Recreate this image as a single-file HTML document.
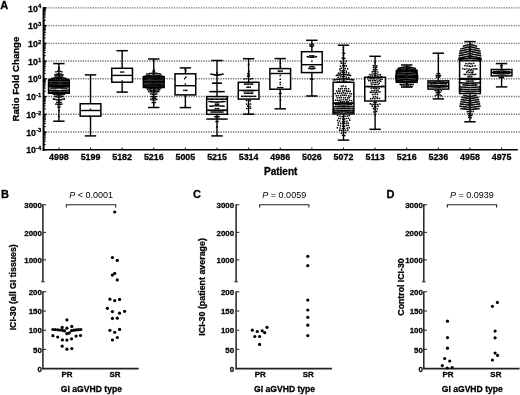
<!DOCTYPE html>
<html><head><meta charset="utf-8"><style>
html,body{margin:0;padding:0;background:#fff;}
svg{display:block;}
text{font-family:"Liberation Sans", sans-serif;fill:#000;}
text[font-weight=bold]{stroke:#000;stroke-width:0.28px;}
svg{filter:blur(0.35px);}
</style></head><body>
<svg width="520" height="395" viewBox="0 0 520 395">
<rect width="520" height="395" fill="#fff"/>
<line x1="46" y1="7.80" x2="520" y2="7.80" stroke="#707070" stroke-width="1.3" stroke-dasharray="1.25 1.21"/>
<line x1="46" y1="25.54" x2="520" y2="25.54" stroke="#707070" stroke-width="1.3" stroke-dasharray="1.25 1.21"/>
<line x1="46" y1="43.28" x2="520" y2="43.28" stroke="#707070" stroke-width="1.3" stroke-dasharray="1.25 1.21"/>
<line x1="46" y1="61.02" x2="520" y2="61.02" stroke="#707070" stroke-width="1.3" stroke-dasharray="1.25 1.21"/>
<line x1="46" y1="78.76" x2="520" y2="78.76" stroke="#707070" stroke-width="1.3" stroke-dasharray="1.25 1.21"/>
<line x1="46" y1="96.50" x2="520" y2="96.50" stroke="#707070" stroke-width="1.3" stroke-dasharray="1.25 1.21"/>
<line x1="46" y1="114.24" x2="520" y2="114.24" stroke="#707070" stroke-width="1.3" stroke-dasharray="1.25 1.21"/>
<line x1="46" y1="131.98" x2="520" y2="131.98" stroke="#707070" stroke-width="1.3" stroke-dasharray="1.25 1.21"/>
<line x1="58.90" y1="63.60" x2="58.90" y2="121.20" stroke="#000" stroke-width="1.4"/>
<line x1="53.20" y1="63.60" x2="64.60" y2="63.60" stroke="#000" stroke-width="1.5"/>
<line x1="53.20" y1="121.20" x2="64.60" y2="121.20" stroke="#000" stroke-width="1.5"/>
<rect x="48.55" y="80.10" width="20.70" height="13.20" fill="#fff" stroke="#000" stroke-width="1.5"/>
<line x1="48.55" y1="86.30" x2="69.25" y2="86.30" stroke="#000" stroke-width="1.4"/>
<circle cx="58.90" cy="67.60" r="0.85"/>
<circle cx="58.90" cy="68.90" r="0.85"/>
<circle cx="55.90" cy="71.78" r="0.85"/>
<circle cx="57.40" cy="71.34" r="0.85"/>
<circle cx="58.90" cy="70.90" r="0.85"/>
<circle cx="60.40" cy="71.34" r="0.85"/>
<circle cx="61.90" cy="71.78" r="0.85"/>
<circle cx="54.90" cy="74.80" r="0.85"/>
<circle cx="56.23" cy="74.43" r="0.85"/>
<circle cx="57.57" cy="74.07" r="0.85"/>
<circle cx="58.90" cy="73.70" r="0.85"/>
<circle cx="60.23" cy="74.07" r="0.85"/>
<circle cx="61.57" cy="74.43" r="0.85"/>
<circle cx="62.90" cy="74.80" r="0.85"/>
<circle cx="55.40" cy="76.06" r="0.85"/>
<circle cx="56.80" cy="75.80" r="0.85"/>
<circle cx="58.20" cy="75.53" r="0.85"/>
<circle cx="59.60" cy="75.53" r="0.85"/>
<circle cx="61.00" cy="75.80" r="0.85"/>
<circle cx="62.40" cy="76.06" r="0.85"/>
<circle cx="51.90" cy="78.32" r="0.85"/>
<circle cx="53.30" cy="78.06" r="0.85"/>
<circle cx="54.70" cy="77.79" r="0.85"/>
<circle cx="56.10" cy="77.53" r="0.85"/>
<circle cx="57.50" cy="77.26" r="0.85"/>
<circle cx="58.90" cy="77.00" r="0.85"/>
<circle cx="60.30" cy="77.26" r="0.85"/>
<circle cx="61.70" cy="77.53" r="0.85"/>
<circle cx="63.10" cy="77.79" r="0.85"/>
<circle cx="64.50" cy="78.06" r="0.85"/>
<circle cx="65.90" cy="78.32" r="0.85"/>
<circle cx="49.40" cy="79.28" r="0.85"/>
<circle cx="50.76" cy="79.15" r="0.85"/>
<circle cx="52.11" cy="79.03" r="0.85"/>
<circle cx="53.47" cy="78.90" r="0.85"/>
<circle cx="54.83" cy="78.78" r="0.85"/>
<circle cx="56.19" cy="78.65" r="0.85"/>
<circle cx="57.54" cy="78.53" r="0.85"/>
<circle cx="58.90" cy="78.40" r="0.85"/>
<circle cx="60.26" cy="78.53" r="0.85"/>
<circle cx="61.61" cy="78.65" r="0.85"/>
<circle cx="62.97" cy="78.78" r="0.85"/>
<circle cx="64.33" cy="78.90" r="0.85"/>
<circle cx="65.69" cy="79.03" r="0.85"/>
<circle cx="67.04" cy="79.15" r="0.85"/>
<circle cx="68.40" cy="79.28" r="0.85"/>
<circle cx="48.90" cy="80.70" r="0.85"/>
<circle cx="50.01" cy="80.70" r="0.85"/>
<circle cx="51.12" cy="80.70" r="0.85"/>
<circle cx="52.23" cy="80.70" r="0.85"/>
<circle cx="53.34" cy="80.70" r="0.85"/>
<circle cx="54.46" cy="80.70" r="0.85"/>
<circle cx="55.57" cy="80.70" r="0.85"/>
<circle cx="56.68" cy="80.70" r="0.85"/>
<circle cx="57.79" cy="80.70" r="0.85"/>
<circle cx="58.90" cy="80.70" r="0.85"/>
<circle cx="60.01" cy="80.70" r="0.85"/>
<circle cx="61.12" cy="80.70" r="0.85"/>
<circle cx="62.23" cy="80.70" r="0.85"/>
<circle cx="63.34" cy="80.70" r="0.85"/>
<circle cx="64.46" cy="80.70" r="0.85"/>
<circle cx="65.57" cy="80.70" r="0.85"/>
<circle cx="66.68" cy="80.70" r="0.85"/>
<circle cx="67.79" cy="80.70" r="0.85"/>
<circle cx="68.90" cy="80.70" r="0.85"/>
<circle cx="48.90" cy="82.30" r="0.85"/>
<circle cx="50.01" cy="82.30" r="0.85"/>
<circle cx="51.12" cy="82.30" r="0.85"/>
<circle cx="52.23" cy="82.30" r="0.85"/>
<circle cx="53.34" cy="82.30" r="0.85"/>
<circle cx="54.46" cy="82.30" r="0.85"/>
<circle cx="55.57" cy="82.30" r="0.85"/>
<circle cx="56.68" cy="82.30" r="0.85"/>
<circle cx="57.79" cy="82.30" r="0.85"/>
<circle cx="58.90" cy="82.30" r="0.85"/>
<circle cx="60.01" cy="82.30" r="0.85"/>
<circle cx="61.12" cy="82.30" r="0.85"/>
<circle cx="62.23" cy="82.30" r="0.85"/>
<circle cx="63.34" cy="82.30" r="0.85"/>
<circle cx="64.46" cy="82.30" r="0.85"/>
<circle cx="65.57" cy="82.30" r="0.85"/>
<circle cx="66.68" cy="82.30" r="0.85"/>
<circle cx="67.79" cy="82.30" r="0.85"/>
<circle cx="68.90" cy="82.30" r="0.85"/>
<circle cx="48.90" cy="83.90" r="0.85"/>
<circle cx="50.01" cy="83.90" r="0.85"/>
<circle cx="51.12" cy="83.90" r="0.85"/>
<circle cx="52.23" cy="83.90" r="0.85"/>
<circle cx="53.34" cy="83.90" r="0.85"/>
<circle cx="54.46" cy="83.90" r="0.85"/>
<circle cx="55.57" cy="83.90" r="0.85"/>
<circle cx="56.68" cy="83.90" r="0.85"/>
<circle cx="57.79" cy="83.90" r="0.85"/>
<circle cx="58.90" cy="83.90" r="0.85"/>
<circle cx="60.01" cy="83.90" r="0.85"/>
<circle cx="61.12" cy="83.90" r="0.85"/>
<circle cx="62.23" cy="83.90" r="0.85"/>
<circle cx="63.34" cy="83.90" r="0.85"/>
<circle cx="64.46" cy="83.90" r="0.85"/>
<circle cx="65.57" cy="83.90" r="0.85"/>
<circle cx="66.68" cy="83.90" r="0.85"/>
<circle cx="67.79" cy="83.90" r="0.85"/>
<circle cx="68.90" cy="83.90" r="0.85"/>
<circle cx="48.90" cy="85.30" r="0.85"/>
<circle cx="50.01" cy="85.30" r="0.85"/>
<circle cx="51.12" cy="85.30" r="0.85"/>
<circle cx="52.23" cy="85.30" r="0.85"/>
<circle cx="53.34" cy="85.30" r="0.85"/>
<circle cx="54.46" cy="85.30" r="0.85"/>
<circle cx="55.57" cy="85.30" r="0.85"/>
<circle cx="56.68" cy="85.30" r="0.85"/>
<circle cx="57.79" cy="85.30" r="0.85"/>
<circle cx="58.90" cy="85.30" r="0.85"/>
<circle cx="60.01" cy="85.30" r="0.85"/>
<circle cx="61.12" cy="85.30" r="0.85"/>
<circle cx="62.23" cy="85.30" r="0.85"/>
<circle cx="63.34" cy="85.30" r="0.85"/>
<circle cx="64.46" cy="85.30" r="0.85"/>
<circle cx="65.57" cy="85.30" r="0.85"/>
<circle cx="66.68" cy="85.30" r="0.85"/>
<circle cx="67.79" cy="85.30" r="0.85"/>
<circle cx="68.90" cy="85.30" r="0.85"/>
<circle cx="48.90" cy="86.60" r="0.85"/>
<circle cx="50.01" cy="86.60" r="0.85"/>
<circle cx="51.12" cy="86.60" r="0.85"/>
<circle cx="52.23" cy="86.60" r="0.85"/>
<circle cx="53.34" cy="86.60" r="0.85"/>
<circle cx="54.46" cy="86.60" r="0.85"/>
<circle cx="55.57" cy="86.60" r="0.85"/>
<circle cx="56.68" cy="86.60" r="0.85"/>
<circle cx="57.79" cy="86.60" r="0.85"/>
<circle cx="58.90" cy="86.60" r="0.85"/>
<circle cx="60.01" cy="86.60" r="0.85"/>
<circle cx="61.12" cy="86.60" r="0.85"/>
<circle cx="62.23" cy="86.60" r="0.85"/>
<circle cx="63.34" cy="86.60" r="0.85"/>
<circle cx="64.46" cy="86.60" r="0.85"/>
<circle cx="65.57" cy="86.60" r="0.85"/>
<circle cx="66.68" cy="86.60" r="0.85"/>
<circle cx="67.79" cy="86.60" r="0.85"/>
<circle cx="68.90" cy="86.60" r="0.85"/>
<circle cx="50.90" cy="88.10" r="0.85"/>
<circle cx="51.97" cy="88.06" r="0.85"/>
<circle cx="53.03" cy="88.02" r="0.85"/>
<circle cx="54.10" cy="87.98" r="0.85"/>
<circle cx="55.17" cy="87.94" r="0.85"/>
<circle cx="56.23" cy="87.90" r="0.85"/>
<circle cx="57.30" cy="87.86" r="0.85"/>
<circle cx="58.37" cy="87.82" r="0.85"/>
<circle cx="59.43" cy="87.82" r="0.85"/>
<circle cx="60.50" cy="87.86" r="0.85"/>
<circle cx="61.57" cy="87.90" r="0.85"/>
<circle cx="62.63" cy="87.94" r="0.85"/>
<circle cx="63.70" cy="87.98" r="0.85"/>
<circle cx="64.77" cy="88.02" r="0.85"/>
<circle cx="65.83" cy="88.06" r="0.85"/>
<circle cx="66.90" cy="88.10" r="0.85"/>
<circle cx="49.90" cy="90.20" r="0.85"/>
<circle cx="51.02" cy="90.25" r="0.85"/>
<circle cx="52.15" cy="90.30" r="0.85"/>
<circle cx="53.27" cy="90.35" r="0.85"/>
<circle cx="54.40" cy="90.40" r="0.85"/>
<circle cx="55.52" cy="90.45" r="0.85"/>
<circle cx="56.65" cy="90.50" r="0.85"/>
<circle cx="57.77" cy="90.55" r="0.85"/>
<circle cx="58.90" cy="90.60" r="0.85"/>
<circle cx="60.02" cy="90.55" r="0.85"/>
<circle cx="61.15" cy="90.50" r="0.85"/>
<circle cx="62.27" cy="90.45" r="0.85"/>
<circle cx="63.40" cy="90.40" r="0.85"/>
<circle cx="64.53" cy="90.35" r="0.85"/>
<circle cx="65.65" cy="90.30" r="0.85"/>
<circle cx="66.78" cy="90.25" r="0.85"/>
<circle cx="67.90" cy="90.20" r="0.85"/>
<circle cx="48.90" cy="92.20" r="0.85"/>
<circle cx="50.01" cy="92.20" r="0.85"/>
<circle cx="51.12" cy="92.20" r="0.85"/>
<circle cx="52.23" cy="92.20" r="0.85"/>
<circle cx="53.34" cy="92.20" r="0.85"/>
<circle cx="54.46" cy="92.20" r="0.85"/>
<circle cx="55.57" cy="92.20" r="0.85"/>
<circle cx="56.68" cy="92.20" r="0.85"/>
<circle cx="57.79" cy="92.20" r="0.85"/>
<circle cx="58.90" cy="92.20" r="0.85"/>
<circle cx="60.01" cy="92.20" r="0.85"/>
<circle cx="61.12" cy="92.20" r="0.85"/>
<circle cx="62.23" cy="92.20" r="0.85"/>
<circle cx="63.34" cy="92.20" r="0.85"/>
<circle cx="64.46" cy="92.20" r="0.85"/>
<circle cx="65.57" cy="92.20" r="0.85"/>
<circle cx="66.68" cy="92.20" r="0.85"/>
<circle cx="67.79" cy="92.20" r="0.85"/>
<circle cx="68.90" cy="92.20" r="0.85"/>
<circle cx="53.40" cy="94.10" r="0.85"/>
<circle cx="54.77" cy="94.38" r="0.85"/>
<circle cx="56.15" cy="94.65" r="0.85"/>
<circle cx="57.52" cy="94.92" r="0.85"/>
<circle cx="58.90" cy="95.20" r="0.85"/>
<circle cx="60.27" cy="94.92" r="0.85"/>
<circle cx="61.65" cy="94.65" r="0.85"/>
<circle cx="63.02" cy="94.38" r="0.85"/>
<circle cx="64.40" cy="94.10" r="0.85"/>
<circle cx="54.90" cy="96.42" r="0.85"/>
<circle cx="56.23" cy="96.71" r="0.85"/>
<circle cx="57.57" cy="97.01" r="0.85"/>
<circle cx="58.90" cy="97.30" r="0.85"/>
<circle cx="60.23" cy="97.01" r="0.85"/>
<circle cx="61.57" cy="96.71" r="0.85"/>
<circle cx="62.90" cy="96.42" r="0.85"/>
<circle cx="53.40" cy="98.88" r="0.85"/>
<circle cx="54.77" cy="99.21" r="0.85"/>
<circle cx="56.15" cy="99.54" r="0.85"/>
<circle cx="57.52" cy="99.87" r="0.85"/>
<circle cx="58.90" cy="100.20" r="0.85"/>
<circle cx="60.27" cy="99.87" r="0.85"/>
<circle cx="61.65" cy="99.54" r="0.85"/>
<circle cx="63.02" cy="99.21" r="0.85"/>
<circle cx="64.40" cy="98.88" r="0.85"/>
<circle cx="56.90" cy="102.40" r="0.85"/>
<circle cx="58.23" cy="102.40" r="0.85"/>
<circle cx="59.57" cy="102.40" r="0.85"/>
<circle cx="60.90" cy="102.40" r="0.85"/>
<circle cx="55.90" cy="104.04" r="0.85"/>
<circle cx="57.40" cy="104.37" r="0.85"/>
<circle cx="58.90" cy="104.70" r="0.85"/>
<circle cx="60.40" cy="104.37" r="0.85"/>
<circle cx="61.90" cy="104.04" r="0.85"/>
<circle cx="57.90" cy="107.00" r="0.85"/>
<circle cx="59.90" cy="107.00" r="0.85"/>
<circle cx="58.90" cy="110.50" r="0.85"/>
<circle cx="58.90" cy="116.30" r="0.85"/>
<line x1="90.52" y1="74.90" x2="90.52" y2="135.90" stroke="#000" stroke-width="1.4"/>
<line x1="84.82" y1="74.90" x2="96.22" y2="74.90" stroke="#000" stroke-width="1.5"/>
<line x1="84.82" y1="135.90" x2="96.22" y2="135.90" stroke="#000" stroke-width="1.5"/>
<rect x="80.17" y="103.75" width="20.70" height="12.40" fill="#fff" stroke="#000" stroke-width="1.5"/>
<line x1="80.17" y1="110.50" x2="100.87" y2="110.50" stroke="#000" stroke-width="1.4"/>
<circle cx="90.52" cy="109.30" r="0.85"/>
<circle cx="89.72" cy="116.30" r="0.85"/>
<line x1="122.14" y1="50.70" x2="122.14" y2="92.10" stroke="#000" stroke-width="1.4"/>
<line x1="116.44" y1="50.70" x2="127.84" y2="50.70" stroke="#000" stroke-width="1.5"/>
<line x1="116.44" y1="92.10" x2="127.84" y2="92.10" stroke="#000" stroke-width="1.5"/>
<rect x="111.79" y="68.30" width="20.70" height="13.90" fill="#fff" stroke="#000" stroke-width="1.5"/>
<line x1="111.79" y1="75.40" x2="132.49" y2="75.40" stroke="#000" stroke-width="1.4"/>
<circle cx="120.74" cy="72.00" r="0.85"/>
<circle cx="122.14" cy="72.00" r="0.85"/>
<circle cx="123.54" cy="72.00" r="0.85"/>
<circle cx="122.14" cy="81.20" r="0.85"/>
<line x1="153.76" y1="59.00" x2="153.76" y2="107.50" stroke="#000" stroke-width="1.4"/>
<line x1="148.06" y1="59.00" x2="159.46" y2="59.00" stroke="#000" stroke-width="1.5"/>
<line x1="148.06" y1="107.50" x2="159.46" y2="107.50" stroke="#000" stroke-width="1.5"/>
<rect x="143.41" y="76.80" width="20.70" height="10.70" fill="#fff" stroke="#000" stroke-width="1.5"/>
<line x1="143.41" y1="82.00" x2="164.11" y2="82.00" stroke="#000" stroke-width="1.4"/>
<circle cx="153.76" cy="69.10" r="0.85"/>
<circle cx="153.06" cy="71.04" r="0.85"/>
<circle cx="154.46" cy="71.04" r="0.85"/>
<circle cx="146.76" cy="74.00" r="0.85"/>
<circle cx="148.16" cy="73.78" r="0.85"/>
<circle cx="149.56" cy="73.56" r="0.85"/>
<circle cx="150.96" cy="73.34" r="0.85"/>
<circle cx="152.36" cy="73.12" r="0.85"/>
<circle cx="153.76" cy="72.90" r="0.85"/>
<circle cx="155.16" cy="73.12" r="0.85"/>
<circle cx="156.56" cy="73.34" r="0.85"/>
<circle cx="157.96" cy="73.56" r="0.85"/>
<circle cx="159.36" cy="73.78" r="0.85"/>
<circle cx="160.76" cy="74.00" r="0.85"/>
<circle cx="145.26" cy="76.12" r="0.85"/>
<circle cx="146.68" cy="75.90" r="0.85"/>
<circle cx="148.09" cy="75.68" r="0.85"/>
<circle cx="149.51" cy="75.46" r="0.85"/>
<circle cx="150.93" cy="75.24" r="0.85"/>
<circle cx="152.34" cy="75.02" r="0.85"/>
<circle cx="153.76" cy="74.80" r="0.85"/>
<circle cx="155.18" cy="75.02" r="0.85"/>
<circle cx="156.59" cy="75.24" r="0.85"/>
<circle cx="158.01" cy="75.46" r="0.85"/>
<circle cx="159.43" cy="75.68" r="0.85"/>
<circle cx="160.84" cy="75.90" r="0.85"/>
<circle cx="162.26" cy="76.12" r="0.85"/>
<circle cx="143.56" cy="76.60" r="0.85"/>
<circle cx="144.92" cy="76.60" r="0.85"/>
<circle cx="146.28" cy="76.60" r="0.85"/>
<circle cx="147.64" cy="76.60" r="0.85"/>
<circle cx="149.00" cy="76.60" r="0.85"/>
<circle cx="150.36" cy="76.60" r="0.85"/>
<circle cx="151.72" cy="76.60" r="0.85"/>
<circle cx="153.08" cy="76.60" r="0.85"/>
<circle cx="154.44" cy="76.60" r="0.85"/>
<circle cx="155.80" cy="76.60" r="0.85"/>
<circle cx="157.16" cy="76.60" r="0.85"/>
<circle cx="158.52" cy="76.60" r="0.85"/>
<circle cx="159.88" cy="76.60" r="0.85"/>
<circle cx="161.24" cy="76.60" r="0.85"/>
<circle cx="162.60" cy="76.60" r="0.85"/>
<circle cx="163.96" cy="76.60" r="0.85"/>
<circle cx="143.56" cy="78.20" r="0.85"/>
<circle cx="144.63" cy="78.20" r="0.85"/>
<circle cx="145.71" cy="78.20" r="0.85"/>
<circle cx="146.78" cy="78.20" r="0.85"/>
<circle cx="147.85" cy="78.20" r="0.85"/>
<circle cx="148.93" cy="78.20" r="0.85"/>
<circle cx="150.00" cy="78.20" r="0.85"/>
<circle cx="151.08" cy="78.20" r="0.85"/>
<circle cx="152.15" cy="78.20" r="0.85"/>
<circle cx="153.22" cy="78.20" r="0.85"/>
<circle cx="154.30" cy="78.20" r="0.85"/>
<circle cx="155.37" cy="78.20" r="0.85"/>
<circle cx="156.44" cy="78.20" r="0.85"/>
<circle cx="157.52" cy="78.20" r="0.85"/>
<circle cx="158.59" cy="78.20" r="0.85"/>
<circle cx="159.67" cy="78.20" r="0.85"/>
<circle cx="160.74" cy="78.20" r="0.85"/>
<circle cx="161.81" cy="78.20" r="0.85"/>
<circle cx="162.89" cy="78.20" r="0.85"/>
<circle cx="163.96" cy="78.20" r="0.85"/>
<circle cx="143.56" cy="79.80" r="0.85"/>
<circle cx="144.63" cy="79.80" r="0.85"/>
<circle cx="145.71" cy="79.80" r="0.85"/>
<circle cx="146.78" cy="79.80" r="0.85"/>
<circle cx="147.85" cy="79.80" r="0.85"/>
<circle cx="148.93" cy="79.80" r="0.85"/>
<circle cx="150.00" cy="79.80" r="0.85"/>
<circle cx="151.08" cy="79.80" r="0.85"/>
<circle cx="152.15" cy="79.80" r="0.85"/>
<circle cx="153.22" cy="79.80" r="0.85"/>
<circle cx="154.30" cy="79.80" r="0.85"/>
<circle cx="155.37" cy="79.80" r="0.85"/>
<circle cx="156.44" cy="79.80" r="0.85"/>
<circle cx="157.52" cy="79.80" r="0.85"/>
<circle cx="158.59" cy="79.80" r="0.85"/>
<circle cx="159.67" cy="79.80" r="0.85"/>
<circle cx="160.74" cy="79.80" r="0.85"/>
<circle cx="161.81" cy="79.80" r="0.85"/>
<circle cx="162.89" cy="79.80" r="0.85"/>
<circle cx="163.96" cy="79.80" r="0.85"/>
<circle cx="143.56" cy="81.40" r="0.85"/>
<circle cx="144.63" cy="81.40" r="0.85"/>
<circle cx="145.71" cy="81.40" r="0.85"/>
<circle cx="146.78" cy="81.40" r="0.85"/>
<circle cx="147.85" cy="81.40" r="0.85"/>
<circle cx="148.93" cy="81.40" r="0.85"/>
<circle cx="150.00" cy="81.40" r="0.85"/>
<circle cx="151.08" cy="81.40" r="0.85"/>
<circle cx="152.15" cy="81.40" r="0.85"/>
<circle cx="153.22" cy="81.40" r="0.85"/>
<circle cx="154.30" cy="81.40" r="0.85"/>
<circle cx="155.37" cy="81.40" r="0.85"/>
<circle cx="156.44" cy="81.40" r="0.85"/>
<circle cx="157.52" cy="81.40" r="0.85"/>
<circle cx="158.59" cy="81.40" r="0.85"/>
<circle cx="159.67" cy="81.40" r="0.85"/>
<circle cx="160.74" cy="81.40" r="0.85"/>
<circle cx="161.81" cy="81.40" r="0.85"/>
<circle cx="162.89" cy="81.40" r="0.85"/>
<circle cx="163.96" cy="81.40" r="0.85"/>
<circle cx="143.56" cy="83.00" r="0.85"/>
<circle cx="144.63" cy="83.00" r="0.85"/>
<circle cx="145.71" cy="83.00" r="0.85"/>
<circle cx="146.78" cy="83.00" r="0.85"/>
<circle cx="147.85" cy="83.00" r="0.85"/>
<circle cx="148.93" cy="83.00" r="0.85"/>
<circle cx="150.00" cy="83.00" r="0.85"/>
<circle cx="151.08" cy="83.00" r="0.85"/>
<circle cx="152.15" cy="83.00" r="0.85"/>
<circle cx="153.22" cy="83.00" r="0.85"/>
<circle cx="154.30" cy="83.00" r="0.85"/>
<circle cx="155.37" cy="83.00" r="0.85"/>
<circle cx="156.44" cy="83.00" r="0.85"/>
<circle cx="157.52" cy="83.00" r="0.85"/>
<circle cx="158.59" cy="83.00" r="0.85"/>
<circle cx="159.67" cy="83.00" r="0.85"/>
<circle cx="160.74" cy="83.00" r="0.85"/>
<circle cx="161.81" cy="83.00" r="0.85"/>
<circle cx="162.89" cy="83.00" r="0.85"/>
<circle cx="163.96" cy="83.00" r="0.85"/>
<circle cx="144.76" cy="84.90" r="0.85"/>
<circle cx="145.88" cy="84.83" r="0.85"/>
<circle cx="147.01" cy="84.75" r="0.85"/>
<circle cx="148.13" cy="84.67" r="0.85"/>
<circle cx="149.26" cy="84.60" r="0.85"/>
<circle cx="150.38" cy="84.52" r="0.85"/>
<circle cx="151.51" cy="84.45" r="0.85"/>
<circle cx="152.63" cy="84.38" r="0.85"/>
<circle cx="153.76" cy="84.30" r="0.85"/>
<circle cx="154.88" cy="84.38" r="0.85"/>
<circle cx="156.01" cy="84.45" r="0.85"/>
<circle cx="157.13" cy="84.52" r="0.85"/>
<circle cx="158.26" cy="84.60" r="0.85"/>
<circle cx="159.38" cy="84.67" r="0.85"/>
<circle cx="160.51" cy="84.75" r="0.85"/>
<circle cx="161.63" cy="84.83" r="0.85"/>
<circle cx="162.76" cy="84.90" r="0.85"/>
<circle cx="143.56" cy="85.80" r="0.85"/>
<circle cx="144.63" cy="85.80" r="0.85"/>
<circle cx="145.71" cy="85.80" r="0.85"/>
<circle cx="146.78" cy="85.80" r="0.85"/>
<circle cx="147.85" cy="85.80" r="0.85"/>
<circle cx="148.93" cy="85.80" r="0.85"/>
<circle cx="150.00" cy="85.80" r="0.85"/>
<circle cx="151.08" cy="85.80" r="0.85"/>
<circle cx="152.15" cy="85.80" r="0.85"/>
<circle cx="153.22" cy="85.80" r="0.85"/>
<circle cx="154.30" cy="85.80" r="0.85"/>
<circle cx="155.37" cy="85.80" r="0.85"/>
<circle cx="156.44" cy="85.80" r="0.85"/>
<circle cx="157.52" cy="85.80" r="0.85"/>
<circle cx="158.59" cy="85.80" r="0.85"/>
<circle cx="159.67" cy="85.80" r="0.85"/>
<circle cx="160.74" cy="85.80" r="0.85"/>
<circle cx="161.81" cy="85.80" r="0.85"/>
<circle cx="162.89" cy="85.80" r="0.85"/>
<circle cx="163.96" cy="85.80" r="0.85"/>
<circle cx="143.76" cy="87.00" r="0.85"/>
<circle cx="144.87" cy="87.00" r="0.85"/>
<circle cx="145.98" cy="87.00" r="0.85"/>
<circle cx="147.09" cy="87.00" r="0.85"/>
<circle cx="148.20" cy="87.00" r="0.85"/>
<circle cx="149.32" cy="87.00" r="0.85"/>
<circle cx="150.43" cy="87.00" r="0.85"/>
<circle cx="151.54" cy="87.00" r="0.85"/>
<circle cx="152.65" cy="87.00" r="0.85"/>
<circle cx="153.76" cy="87.00" r="0.85"/>
<circle cx="154.87" cy="87.00" r="0.85"/>
<circle cx="155.98" cy="87.00" r="0.85"/>
<circle cx="157.09" cy="87.00" r="0.85"/>
<circle cx="158.20" cy="87.00" r="0.85"/>
<circle cx="159.32" cy="87.00" r="0.85"/>
<circle cx="160.43" cy="87.00" r="0.85"/>
<circle cx="161.54" cy="87.00" r="0.85"/>
<circle cx="162.65" cy="87.00" r="0.85"/>
<circle cx="163.76" cy="87.00" r="0.85"/>
<circle cx="146.26" cy="87.80" r="0.85"/>
<circle cx="147.62" cy="88.00" r="0.85"/>
<circle cx="148.99" cy="88.20" r="0.85"/>
<circle cx="150.35" cy="88.40" r="0.85"/>
<circle cx="151.71" cy="88.60" r="0.85"/>
<circle cx="153.08" cy="88.80" r="0.85"/>
<circle cx="154.44" cy="88.80" r="0.85"/>
<circle cx="155.81" cy="88.60" r="0.85"/>
<circle cx="157.17" cy="88.40" r="0.85"/>
<circle cx="158.53" cy="88.20" r="0.85"/>
<circle cx="159.90" cy="88.00" r="0.85"/>
<circle cx="161.26" cy="87.80" r="0.85"/>
<circle cx="147.76" cy="89.60" r="0.85"/>
<circle cx="149.09" cy="89.84" r="0.85"/>
<circle cx="150.43" cy="90.09" r="0.85"/>
<circle cx="151.76" cy="90.33" r="0.85"/>
<circle cx="153.09" cy="90.58" r="0.85"/>
<circle cx="154.43" cy="90.58" r="0.85"/>
<circle cx="155.76" cy="90.33" r="0.85"/>
<circle cx="157.09" cy="90.09" r="0.85"/>
<circle cx="158.43" cy="89.84" r="0.85"/>
<circle cx="159.76" cy="89.60" r="0.85"/>
<circle cx="148.76" cy="91.42" r="0.85"/>
<circle cx="150.19" cy="91.67" r="0.85"/>
<circle cx="151.62" cy="91.92" r="0.85"/>
<circle cx="153.05" cy="92.17" r="0.85"/>
<circle cx="154.47" cy="92.17" r="0.85"/>
<circle cx="155.90" cy="91.92" r="0.85"/>
<circle cx="157.33" cy="91.67" r="0.85"/>
<circle cx="158.76" cy="91.42" r="0.85"/>
<circle cx="150.76" cy="93.84" r="0.85"/>
<circle cx="152.26" cy="94.17" r="0.85"/>
<circle cx="153.76" cy="94.50" r="0.85"/>
<circle cx="155.26" cy="94.17" r="0.85"/>
<circle cx="156.76" cy="93.84" r="0.85"/>
<circle cx="151.26" cy="96.50" r="0.85"/>
<circle cx="152.51" cy="96.50" r="0.85"/>
<circle cx="153.76" cy="96.50" r="0.85"/>
<circle cx="155.01" cy="96.50" r="0.85"/>
<circle cx="156.26" cy="96.50" r="0.85"/>
<circle cx="152.26" cy="98.20" r="0.85"/>
<circle cx="153.76" cy="98.20" r="0.85"/>
<circle cx="155.26" cy="98.20" r="0.85"/>
<circle cx="150.76" cy="99.44" r="0.85"/>
<circle cx="152.26" cy="99.77" r="0.85"/>
<circle cx="153.76" cy="100.10" r="0.85"/>
<circle cx="155.26" cy="99.77" r="0.85"/>
<circle cx="156.76" cy="99.44" r="0.85"/>
<circle cx="152.26" cy="102.50" r="0.85"/>
<circle cx="153.76" cy="102.50" r="0.85"/>
<circle cx="155.26" cy="102.50" r="0.85"/>
<circle cx="153.76" cy="104.00" r="0.85"/>
<line x1="185.38" y1="67.90" x2="185.38" y2="107.60" stroke="#000" stroke-width="1.4"/>
<line x1="179.68" y1="67.90" x2="191.08" y2="67.90" stroke="#000" stroke-width="1.5"/>
<line x1="179.68" y1="107.60" x2="191.08" y2="107.60" stroke="#000" stroke-width="1.5"/>
<rect x="175.03" y="73.80" width="20.70" height="21.10" fill="#fff" stroke="#000" stroke-width="1.5"/>
<line x1="175.03" y1="85.70" x2="195.73" y2="85.70" stroke="#000" stroke-width="1.4"/>
<circle cx="185.38" cy="69.20" r="0.85"/>
<circle cx="185.98" cy="70.60" r="0.85"/>
<circle cx="185.88" cy="77.20" r="0.85"/>
<circle cx="184.68" cy="78.60" r="0.85"/>
<circle cx="185.38" cy="84.00" r="0.85"/>
<circle cx="183.88" cy="90.30" r="0.85"/>
<circle cx="185.38" cy="90.30" r="0.85"/>
<circle cx="186.88" cy="90.30" r="0.85"/>
<circle cx="185.38" cy="106.50" r="0.85"/>
<line x1="217.00" y1="60.50" x2="217.00" y2="135.90" stroke="#000" stroke-width="1.4"/>
<line x1="211.30" y1="60.50" x2="222.70" y2="60.50" stroke="#000" stroke-width="1.5"/>
<line x1="211.30" y1="135.90" x2="222.70" y2="135.90" stroke="#000" stroke-width="1.5"/>
<rect x="206.65" y="96.60" width="20.70" height="17.70" fill="#fff" stroke="#000" stroke-width="1.5"/>
<line x1="206.65" y1="110.30" x2="227.35" y2="110.30" stroke="#000" stroke-width="1.4"/>
<circle cx="217.00" cy="72.90" r="0.85"/>
<circle cx="211.00" cy="74.10" r="0.85"/>
<circle cx="212.09" cy="74.30" r="0.85"/>
<circle cx="213.18" cy="74.50" r="0.85"/>
<circle cx="214.27" cy="74.70" r="0.85"/>
<circle cx="215.36" cy="74.90" r="0.85"/>
<circle cx="216.45" cy="75.10" r="0.85"/>
<circle cx="217.55" cy="75.10" r="0.85"/>
<circle cx="218.64" cy="74.90" r="0.85"/>
<circle cx="219.73" cy="74.70" r="0.85"/>
<circle cx="220.82" cy="74.50" r="0.85"/>
<circle cx="221.91" cy="74.30" r="0.85"/>
<circle cx="223.00" cy="74.10" r="0.85"/>
<circle cx="212.80" cy="83.20" r="0.85"/>
<circle cx="213.85" cy="83.20" r="0.85"/>
<circle cx="214.90" cy="83.20" r="0.85"/>
<circle cx="215.95" cy="83.20" r="0.85"/>
<circle cx="217.00" cy="83.20" r="0.85"/>
<circle cx="218.05" cy="83.20" r="0.85"/>
<circle cx="219.10" cy="83.20" r="0.85"/>
<circle cx="220.15" cy="83.20" r="0.85"/>
<circle cx="221.20" cy="83.20" r="0.85"/>
<circle cx="210.00" cy="91.60" r="0.85"/>
<circle cx="211.08" cy="91.60" r="0.85"/>
<circle cx="212.15" cy="91.60" r="0.85"/>
<circle cx="213.23" cy="91.60" r="0.85"/>
<circle cx="214.31" cy="91.60" r="0.85"/>
<circle cx="215.38" cy="91.60" r="0.85"/>
<circle cx="216.46" cy="91.60" r="0.85"/>
<circle cx="217.54" cy="91.60" r="0.85"/>
<circle cx="218.62" cy="91.60" r="0.85"/>
<circle cx="219.69" cy="91.60" r="0.85"/>
<circle cx="220.77" cy="91.60" r="0.85"/>
<circle cx="221.85" cy="91.60" r="0.85"/>
<circle cx="222.92" cy="91.60" r="0.85"/>
<circle cx="224.00" cy="91.60" r="0.85"/>
<circle cx="207.50" cy="99.20" r="0.85"/>
<circle cx="208.77" cy="99.20" r="0.85"/>
<circle cx="210.03" cy="99.20" r="0.85"/>
<circle cx="211.30" cy="99.20" r="0.85"/>
<circle cx="212.57" cy="99.20" r="0.85"/>
<circle cx="213.83" cy="99.20" r="0.85"/>
<circle cx="215.10" cy="99.20" r="0.85"/>
<circle cx="216.37" cy="99.20" r="0.85"/>
<circle cx="217.63" cy="99.20" r="0.85"/>
<circle cx="218.90" cy="99.20" r="0.85"/>
<circle cx="220.17" cy="99.20" r="0.85"/>
<circle cx="221.43" cy="99.20" r="0.85"/>
<circle cx="222.70" cy="99.20" r="0.85"/>
<circle cx="223.97" cy="99.20" r="0.85"/>
<circle cx="225.23" cy="99.20" r="0.85"/>
<circle cx="226.50" cy="99.20" r="0.85"/>
<circle cx="209.00" cy="101.50" r="0.85"/>
<circle cx="210.23" cy="101.59" r="0.85"/>
<circle cx="211.46" cy="101.68" r="0.85"/>
<circle cx="212.69" cy="101.78" r="0.85"/>
<circle cx="213.92" cy="101.87" r="0.85"/>
<circle cx="215.15" cy="101.96" r="0.85"/>
<circle cx="216.38" cy="102.05" r="0.85"/>
<circle cx="217.62" cy="102.05" r="0.85"/>
<circle cx="218.85" cy="101.96" r="0.85"/>
<circle cx="220.08" cy="101.87" r="0.85"/>
<circle cx="221.31" cy="101.78" r="0.85"/>
<circle cx="222.54" cy="101.68" r="0.85"/>
<circle cx="223.77" cy="101.59" r="0.85"/>
<circle cx="225.00" cy="101.50" r="0.85"/>
<circle cx="215.50" cy="104.20" r="0.85"/>
<circle cx="217.00" cy="104.20" r="0.85"/>
<circle cx="218.50" cy="104.20" r="0.85"/>
<circle cx="210.00" cy="106.20" r="0.85"/>
<circle cx="211.27" cy="106.09" r="0.85"/>
<circle cx="212.55" cy="105.98" r="0.85"/>
<circle cx="213.82" cy="105.87" r="0.85"/>
<circle cx="215.09" cy="105.76" r="0.85"/>
<circle cx="216.36" cy="105.65" r="0.85"/>
<circle cx="217.64" cy="105.65" r="0.85"/>
<circle cx="218.91" cy="105.76" r="0.85"/>
<circle cx="220.18" cy="105.87" r="0.85"/>
<circle cx="221.45" cy="105.98" r="0.85"/>
<circle cx="222.73" cy="106.09" r="0.85"/>
<circle cx="224.00" cy="106.20" r="0.85"/>
<circle cx="215.50" cy="108.50" r="0.85"/>
<circle cx="217.00" cy="108.50" r="0.85"/>
<circle cx="218.50" cy="108.50" r="0.85"/>
<circle cx="208.00" cy="110.30" r="0.85"/>
<circle cx="209.29" cy="110.30" r="0.85"/>
<circle cx="210.57" cy="110.30" r="0.85"/>
<circle cx="211.86" cy="110.30" r="0.85"/>
<circle cx="213.14" cy="110.30" r="0.85"/>
<circle cx="214.43" cy="110.30" r="0.85"/>
<circle cx="215.71" cy="110.30" r="0.85"/>
<circle cx="217.00" cy="110.30" r="0.85"/>
<circle cx="218.29" cy="110.30" r="0.85"/>
<circle cx="219.57" cy="110.30" r="0.85"/>
<circle cx="220.86" cy="110.30" r="0.85"/>
<circle cx="222.14" cy="110.30" r="0.85"/>
<circle cx="223.43" cy="110.30" r="0.85"/>
<circle cx="224.71" cy="110.30" r="0.85"/>
<circle cx="226.00" cy="110.30" r="0.85"/>
<circle cx="211.00" cy="112.00" r="0.85"/>
<circle cx="212.20" cy="112.00" r="0.85"/>
<circle cx="213.40" cy="112.00" r="0.85"/>
<circle cx="214.60" cy="112.00" r="0.85"/>
<circle cx="215.80" cy="112.00" r="0.85"/>
<circle cx="217.00" cy="112.00" r="0.85"/>
<circle cx="218.20" cy="112.00" r="0.85"/>
<circle cx="219.40" cy="112.00" r="0.85"/>
<circle cx="220.60" cy="112.00" r="0.85"/>
<circle cx="221.80" cy="112.00" r="0.85"/>
<circle cx="223.00" cy="112.00" r="0.85"/>
<circle cx="215.00" cy="116.70" r="0.85"/>
<circle cx="216.00" cy="116.70" r="0.85"/>
<circle cx="217.00" cy="116.70" r="0.85"/>
<circle cx="218.00" cy="116.70" r="0.85"/>
<circle cx="219.00" cy="116.70" r="0.85"/>
<circle cx="207.00" cy="119.00" r="0.85"/>
<circle cx="208.11" cy="119.00" r="0.85"/>
<circle cx="209.22" cy="119.00" r="0.85"/>
<circle cx="210.33" cy="119.00" r="0.85"/>
<circle cx="211.44" cy="119.00" r="0.85"/>
<circle cx="212.56" cy="119.00" r="0.85"/>
<circle cx="213.67" cy="119.00" r="0.85"/>
<circle cx="214.78" cy="119.00" r="0.85"/>
<circle cx="215.89" cy="119.00" r="0.85"/>
<circle cx="217.00" cy="119.00" r="0.85"/>
<circle cx="218.11" cy="119.00" r="0.85"/>
<circle cx="219.22" cy="119.00" r="0.85"/>
<circle cx="220.33" cy="119.00" r="0.85"/>
<circle cx="221.44" cy="119.00" r="0.85"/>
<circle cx="222.56" cy="119.00" r="0.85"/>
<circle cx="223.67" cy="119.00" r="0.85"/>
<circle cx="224.78" cy="119.00" r="0.85"/>
<circle cx="225.89" cy="119.00" r="0.85"/>
<circle cx="227.00" cy="119.00" r="0.85"/>
<circle cx="216.00" cy="121.50" r="0.85"/>
<circle cx="217.00" cy="121.50" r="0.85"/>
<circle cx="218.00" cy="121.50" r="0.85"/>
<circle cx="217.00" cy="126.90" r="0.85"/>
<line x1="248.62" y1="58.70" x2="248.62" y2="114.20" stroke="#000" stroke-width="1.4"/>
<line x1="242.92" y1="58.70" x2="254.32" y2="58.70" stroke="#000" stroke-width="1.5"/>
<line x1="242.92" y1="114.20" x2="254.32" y2="114.20" stroke="#000" stroke-width="1.5"/>
<rect x="238.27" y="82.30" width="20.70" height="16.80" fill="#fff" stroke="#000" stroke-width="1.5"/>
<line x1="238.27" y1="90.40" x2="258.97" y2="90.40" stroke="#000" stroke-width="1.4"/>
<circle cx="248.59" cy="64.44" r="0.85"/>
<circle cx="248.92" cy="71.18" r="0.85"/>
<circle cx="247.93" cy="73.69" r="0.85"/>
<circle cx="249.10" cy="73.65" r="0.85"/>
<circle cx="247.71" cy="76.18" r="0.85"/>
<circle cx="249.34" cy="75.88" r="0.85"/>
<circle cx="244.33" cy="78.99" r="0.85"/>
<circle cx="246.76" cy="78.53" r="0.85"/>
<circle cx="248.96" cy="79.08" r="0.85"/>
<circle cx="250.73" cy="78.87" r="0.85"/>
<circle cx="252.38" cy="78.51" r="0.85"/>
<circle cx="244.62" cy="84.10" r="0.85"/>
<circle cx="245.95" cy="84.10" r="0.85"/>
<circle cx="247.29" cy="84.10" r="0.85"/>
<circle cx="248.62" cy="84.10" r="0.85"/>
<circle cx="249.95" cy="84.10" r="0.85"/>
<circle cx="251.29" cy="84.10" r="0.85"/>
<circle cx="252.62" cy="84.10" r="0.85"/>
<circle cx="247.12" cy="87.20" r="0.85"/>
<circle cx="248.62" cy="87.20" r="0.85"/>
<circle cx="250.12" cy="87.20" r="0.85"/>
<circle cx="243.62" cy="90.70" r="0.85"/>
<circle cx="244.87" cy="90.70" r="0.85"/>
<circle cx="246.12" cy="90.70" r="0.85"/>
<circle cx="247.37" cy="90.70" r="0.85"/>
<circle cx="248.62" cy="90.70" r="0.85"/>
<circle cx="249.87" cy="90.70" r="0.85"/>
<circle cx="251.12" cy="90.70" r="0.85"/>
<circle cx="252.37" cy="90.70" r="0.85"/>
<circle cx="253.62" cy="90.70" r="0.85"/>
<circle cx="244.62" cy="93.20" r="0.85"/>
<circle cx="245.95" cy="93.20" r="0.85"/>
<circle cx="247.29" cy="93.20" r="0.85"/>
<circle cx="248.62" cy="93.20" r="0.85"/>
<circle cx="249.95" cy="93.20" r="0.85"/>
<circle cx="251.29" cy="93.20" r="0.85"/>
<circle cx="252.62" cy="93.20" r="0.85"/>
<circle cx="241.62" cy="96.30" r="0.85"/>
<circle cx="242.89" cy="96.30" r="0.85"/>
<circle cx="244.17" cy="96.30" r="0.85"/>
<circle cx="245.44" cy="96.30" r="0.85"/>
<circle cx="246.71" cy="96.30" r="0.85"/>
<circle cx="247.98" cy="96.30" r="0.85"/>
<circle cx="249.26" cy="96.30" r="0.85"/>
<circle cx="250.53" cy="96.30" r="0.85"/>
<circle cx="251.80" cy="96.30" r="0.85"/>
<circle cx="253.07" cy="96.30" r="0.85"/>
<circle cx="254.35" cy="96.30" r="0.85"/>
<circle cx="255.62" cy="96.30" r="0.85"/>
<circle cx="246.64" cy="100.54" r="0.85"/>
<circle cx="248.40" cy="100.65" r="0.85"/>
<circle cx="250.29" cy="100.78" r="0.85"/>
<circle cx="246.58" cy="104.11" r="0.85"/>
<circle cx="248.63" cy="103.98" r="0.85"/>
<circle cx="250.62" cy="104.00" r="0.85"/>
<circle cx="247.59" cy="106.07" r="0.85"/>
<circle cx="249.97" cy="106.50" r="0.85"/>
<circle cx="246.86" cy="108.52" r="0.85"/>
<circle cx="248.49" cy="108.24" r="0.85"/>
<circle cx="250.47" cy="108.14" r="0.85"/>
<line x1="280.24" y1="58.60" x2="280.24" y2="108.80" stroke="#000" stroke-width="1.4"/>
<line x1="274.54" y1="58.60" x2="285.94" y2="58.60" stroke="#000" stroke-width="1.5"/>
<line x1="274.54" y1="108.80" x2="285.94" y2="108.80" stroke="#000" stroke-width="1.5"/>
<rect x="269.89" y="68.60" width="20.70" height="20.60" fill="#fff" stroke="#000" stroke-width="1.5"/>
<line x1="269.89" y1="73.50" x2="290.59" y2="73.50" stroke="#000" stroke-width="1.4"/>
<circle cx="280.43" cy="63.14" r="0.85"/>
<circle cx="280.48" cy="66.33" r="0.85"/>
<circle cx="278.24" cy="71.10" r="0.85"/>
<circle cx="279.57" cy="71.10" r="0.85"/>
<circle cx="280.91" cy="71.10" r="0.85"/>
<circle cx="282.24" cy="71.10" r="0.85"/>
<circle cx="280.24" cy="75.50" r="0.85"/>
<circle cx="280.24" cy="79.20" r="0.85"/>
<circle cx="280.24" cy="82.40" r="0.85"/>
<circle cx="280.24" cy="84.50" r="0.85"/>
<circle cx="277.74" cy="87.50" r="0.85"/>
<circle cx="278.99" cy="87.50" r="0.85"/>
<circle cx="280.24" cy="87.50" r="0.85"/>
<circle cx="281.49" cy="87.50" r="0.85"/>
<circle cx="282.74" cy="87.50" r="0.85"/>
<circle cx="279.56" cy="93.71" r="0.85"/>
<circle cx="280.89" cy="93.33" r="0.85"/>
<circle cx="280.53" cy="96.48" r="0.85"/>
<circle cx="280.58" cy="99.94" r="0.85"/>
<line x1="311.86" y1="40.30" x2="311.86" y2="96.00" stroke="#000" stroke-width="1.4"/>
<line x1="306.16" y1="40.30" x2="317.56" y2="40.30" stroke="#000" stroke-width="1.5"/>
<line x1="306.16" y1="96.00" x2="317.56" y2="96.00" stroke="#000" stroke-width="1.5"/>
<rect x="301.51" y="51.70" width="20.70" height="20.90" fill="#fff" stroke="#000" stroke-width="1.5"/>
<line x1="301.51" y1="64.70" x2="322.21" y2="64.70" stroke="#000" stroke-width="1.4"/>
<circle cx="310.06" cy="44.48" r="0.85"/>
<circle cx="312.05" cy="43.96" r="0.85"/>
<circle cx="313.07" cy="44.30" r="0.85"/>
<circle cx="310.18" cy="46.15" r="0.85"/>
<circle cx="311.59" cy="45.45" r="0.85"/>
<circle cx="313.58" cy="45.74" r="0.85"/>
<circle cx="312.07" cy="46.91" r="0.85"/>
<circle cx="309.86" cy="55.80" r="0.85"/>
<circle cx="311.19" cy="55.80" r="0.85"/>
<circle cx="312.53" cy="55.80" r="0.85"/>
<circle cx="313.86" cy="55.80" r="0.85"/>
<circle cx="307.36" cy="56.70" r="0.85"/>
<circle cx="308.65" cy="56.87" r="0.85"/>
<circle cx="309.93" cy="57.04" r="0.85"/>
<circle cx="311.22" cy="57.21" r="0.85"/>
<circle cx="312.50" cy="57.21" r="0.85"/>
<circle cx="313.79" cy="57.04" r="0.85"/>
<circle cx="315.07" cy="56.87" r="0.85"/>
<circle cx="316.36" cy="56.70" r="0.85"/>
<circle cx="311.86" cy="61.10" r="0.85"/>
<circle cx="309.86" cy="66.90" r="0.85"/>
<circle cx="311.19" cy="66.57" r="0.85"/>
<circle cx="312.53" cy="66.57" r="0.85"/>
<circle cx="313.86" cy="66.90" r="0.85"/>
<circle cx="308.86" cy="68.30" r="0.85"/>
<circle cx="310.06" cy="68.54" r="0.85"/>
<circle cx="311.26" cy="68.78" r="0.85"/>
<circle cx="312.46" cy="68.78" r="0.85"/>
<circle cx="313.66" cy="68.54" r="0.85"/>
<circle cx="314.86" cy="68.30" r="0.85"/>
<circle cx="310.70" cy="78.97" r="0.85"/>
<circle cx="312.84" cy="79.14" r="0.85"/>
<line x1="343.48" y1="45.20" x2="343.48" y2="140.10" stroke="#000" stroke-width="1.4"/>
<line x1="337.78" y1="45.20" x2="349.18" y2="45.20" stroke="#000" stroke-width="1.5"/>
<line x1="337.78" y1="140.10" x2="349.18" y2="140.10" stroke="#000" stroke-width="1.5"/>
<rect x="333.13" y="82.30" width="20.70" height="31.60" fill="#fff" stroke="#000" stroke-width="1.5"/>
<line x1="333.13" y1="103.20" x2="353.83" y2="103.20" stroke="#000" stroke-width="1.4"/>
<circle cx="343.22" cy="47.59" r="0.85"/>
<circle cx="343.21" cy="49.95" r="0.85"/>
<circle cx="342.58" cy="53.00" r="0.85"/>
<circle cx="344.51" cy="53.32" r="0.85"/>
<circle cx="343.34" cy="55.73" r="0.85"/>
<circle cx="342.28" cy="58.14" r="0.85"/>
<circle cx="344.73" cy="58.29" r="0.85"/>
<circle cx="340.70" cy="61.29" r="0.85"/>
<circle cx="343.28" cy="60.35" r="0.85"/>
<circle cx="346.17" cy="60.90" r="0.85"/>
<circle cx="341.34" cy="63.14" r="0.85"/>
<circle cx="343.19" cy="63.05" r="0.85"/>
<circle cx="345.30" cy="63.46" r="0.85"/>
<circle cx="340.39" cy="66.07" r="0.85"/>
<circle cx="342.80" cy="65.69" r="0.85"/>
<circle cx="344.53" cy="65.92" r="0.85"/>
<circle cx="346.26" cy="65.89" r="0.85"/>
<circle cx="339.77" cy="68.99" r="0.85"/>
<circle cx="341.30" cy="68.21" r="0.85"/>
<circle cx="343.65" cy="68.26" r="0.85"/>
<circle cx="345.27" cy="68.67" r="0.85"/>
<circle cx="347.75" cy="68.86" r="0.85"/>
<circle cx="340.43" cy="70.66" r="0.85"/>
<circle cx="342.16" cy="70.78" r="0.85"/>
<circle cx="344.30" cy="70.62" r="0.85"/>
<circle cx="346.31" cy="71.09" r="0.85"/>
<circle cx="338.55" cy="73.18" r="0.85"/>
<circle cx="340.25" cy="73.03" r="0.85"/>
<circle cx="342.18" cy="72.34" r="0.85"/>
<circle cx="344.52" cy="72.71" r="0.85"/>
<circle cx="346.56" cy="72.77" r="0.85"/>
<circle cx="348.77" cy="73.12" r="0.85"/>
<circle cx="336.48" cy="75.40" r="0.85"/>
<circle cx="337.65" cy="75.22" r="0.85"/>
<circle cx="338.81" cy="75.03" r="0.85"/>
<circle cx="339.98" cy="74.85" r="0.85"/>
<circle cx="341.15" cy="74.67" r="0.85"/>
<circle cx="342.31" cy="74.48" r="0.85"/>
<circle cx="343.48" cy="74.30" r="0.85"/>
<circle cx="344.65" cy="74.48" r="0.85"/>
<circle cx="345.81" cy="74.67" r="0.85"/>
<circle cx="346.98" cy="74.85" r="0.85"/>
<circle cx="348.15" cy="75.03" r="0.85"/>
<circle cx="349.31" cy="75.22" r="0.85"/>
<circle cx="350.48" cy="75.40" r="0.85"/>
<circle cx="338.14" cy="77.36" r="0.85"/>
<circle cx="340.44" cy="76.84" r="0.85"/>
<circle cx="342.25" cy="76.62" r="0.85"/>
<circle cx="344.53" cy="76.48" r="0.85"/>
<circle cx="346.38" cy="77.33" r="0.85"/>
<circle cx="348.82" cy="77.59" r="0.85"/>
<circle cx="333.48" cy="79.80" r="0.85"/>
<circle cx="334.66" cy="79.67" r="0.85"/>
<circle cx="335.83" cy="79.54" r="0.85"/>
<circle cx="337.01" cy="79.41" r="0.85"/>
<circle cx="338.19" cy="79.28" r="0.85"/>
<circle cx="339.36" cy="79.15" r="0.85"/>
<circle cx="340.54" cy="79.02" r="0.85"/>
<circle cx="341.72" cy="78.89" r="0.85"/>
<circle cx="342.89" cy="78.76" r="0.85"/>
<circle cx="344.07" cy="78.76" r="0.85"/>
<circle cx="345.24" cy="78.89" r="0.85"/>
<circle cx="346.42" cy="79.02" r="0.85"/>
<circle cx="347.60" cy="79.15" r="0.85"/>
<circle cx="348.77" cy="79.28" r="0.85"/>
<circle cx="349.95" cy="79.41" r="0.85"/>
<circle cx="351.13" cy="79.54" r="0.85"/>
<circle cx="352.30" cy="79.67" r="0.85"/>
<circle cx="353.48" cy="79.80" r="0.85"/>
<circle cx="337.61" cy="81.85" r="0.85"/>
<circle cx="339.63" cy="81.04" r="0.85"/>
<circle cx="341.94" cy="81.09" r="0.85"/>
<circle cx="344.82" cy="81.12" r="0.85"/>
<circle cx="346.74" cy="81.40" r="0.85"/>
<circle cx="349.47" cy="81.94" r="0.85"/>
<circle cx="341.35" cy="86.36" r="0.85"/>
<circle cx="343.18" cy="85.93" r="0.85"/>
<circle cx="345.65" cy="86.30" r="0.85"/>
<circle cx="338.65" cy="88.82" r="0.85"/>
<circle cx="340.69" cy="88.79" r="0.85"/>
<circle cx="342.38" cy="88.49" r="0.85"/>
<circle cx="344.76" cy="88.60" r="0.85"/>
<circle cx="346.42" cy="88.71" r="0.85"/>
<circle cx="348.73" cy="88.74" r="0.85"/>
<circle cx="336.57" cy="91.09" r="0.85"/>
<circle cx="338.54" cy="91.07" r="0.85"/>
<circle cx="340.19" cy="90.92" r="0.85"/>
<circle cx="342.83" cy="90.91" r="0.85"/>
<circle cx="344.64" cy="90.61" r="0.85"/>
<circle cx="346.64" cy="90.89" r="0.85"/>
<circle cx="348.44" cy="91.20" r="0.85"/>
<circle cx="350.19" cy="91.31" r="0.85"/>
<circle cx="335.15" cy="93.60" r="0.85"/>
<circle cx="337.47" cy="93.22" r="0.85"/>
<circle cx="339.62" cy="93.22" r="0.85"/>
<circle cx="341.56" cy="93.31" r="0.85"/>
<circle cx="343.31" cy="92.61" r="0.85"/>
<circle cx="345.34" cy="93.17" r="0.85"/>
<circle cx="347.27" cy="93.02" r="0.85"/>
<circle cx="349.76" cy="93.48" r="0.85"/>
<circle cx="351.44" cy="93.78" r="0.85"/>
<circle cx="336.36" cy="95.86" r="0.85"/>
<circle cx="338.27" cy="95.56" r="0.85"/>
<circle cx="340.69" cy="95.69" r="0.85"/>
<circle cx="342.75" cy="95.21" r="0.85"/>
<circle cx="344.54" cy="95.17" r="0.85"/>
<circle cx="346.23" cy="95.44" r="0.85"/>
<circle cx="348.72" cy="95.81" r="0.85"/>
<circle cx="350.63" cy="96.03" r="0.85"/>
<circle cx="337.32" cy="97.78" r="0.85"/>
<circle cx="339.45" cy="97.69" r="0.85"/>
<circle cx="341.28" cy="97.61" r="0.85"/>
<circle cx="343.57" cy="97.50" r="0.85"/>
<circle cx="345.35" cy="97.86" r="0.85"/>
<circle cx="347.82" cy="97.79" r="0.85"/>
<circle cx="349.18" cy="97.70" r="0.85"/>
<circle cx="335.74" cy="100.16" r="0.85"/>
<circle cx="337.63" cy="100.32" r="0.85"/>
<circle cx="339.35" cy="100.29" r="0.85"/>
<circle cx="341.14" cy="99.74" r="0.85"/>
<circle cx="343.45" cy="99.51" r="0.85"/>
<circle cx="345.71" cy="99.80" r="0.85"/>
<circle cx="347.23" cy="99.85" r="0.85"/>
<circle cx="349.57" cy="100.25" r="0.85"/>
<circle cx="351.57" cy="100.53" r="0.85"/>
<circle cx="338.70" cy="102.28" r="0.85"/>
<circle cx="340.61" cy="101.66" r="0.85"/>
<circle cx="342.46" cy="101.49" r="0.85"/>
<circle cx="344.14" cy="101.66" r="0.85"/>
<circle cx="346.63" cy="101.65" r="0.85"/>
<circle cx="348.32" cy="101.91" r="0.85"/>
<circle cx="333.48" cy="103.20" r="0.85"/>
<circle cx="334.66" cy="103.20" r="0.85"/>
<circle cx="335.83" cy="103.20" r="0.85"/>
<circle cx="337.01" cy="103.20" r="0.85"/>
<circle cx="338.19" cy="103.20" r="0.85"/>
<circle cx="339.36" cy="103.20" r="0.85"/>
<circle cx="340.54" cy="103.20" r="0.85"/>
<circle cx="341.72" cy="103.20" r="0.85"/>
<circle cx="342.89" cy="103.20" r="0.85"/>
<circle cx="344.07" cy="103.20" r="0.85"/>
<circle cx="345.24" cy="103.20" r="0.85"/>
<circle cx="346.42" cy="103.20" r="0.85"/>
<circle cx="347.60" cy="103.20" r="0.85"/>
<circle cx="348.77" cy="103.20" r="0.85"/>
<circle cx="349.95" cy="103.20" r="0.85"/>
<circle cx="351.13" cy="103.20" r="0.85"/>
<circle cx="352.30" cy="103.20" r="0.85"/>
<circle cx="353.48" cy="103.20" r="0.85"/>
<circle cx="335.48" cy="104.50" r="0.85"/>
<circle cx="336.81" cy="104.58" r="0.85"/>
<circle cx="338.15" cy="104.67" r="0.85"/>
<circle cx="339.48" cy="104.75" r="0.85"/>
<circle cx="340.81" cy="104.83" r="0.85"/>
<circle cx="342.15" cy="104.92" r="0.85"/>
<circle cx="343.48" cy="105.00" r="0.85"/>
<circle cx="344.81" cy="104.92" r="0.85"/>
<circle cx="346.15" cy="104.83" r="0.85"/>
<circle cx="347.48" cy="104.75" r="0.85"/>
<circle cx="348.81" cy="104.67" r="0.85"/>
<circle cx="350.15" cy="104.58" r="0.85"/>
<circle cx="351.48" cy="104.50" r="0.85"/>
<circle cx="334.48" cy="106.70" r="0.85"/>
<circle cx="335.77" cy="106.70" r="0.85"/>
<circle cx="337.05" cy="106.70" r="0.85"/>
<circle cx="338.34" cy="106.70" r="0.85"/>
<circle cx="339.62" cy="106.70" r="0.85"/>
<circle cx="340.91" cy="106.70" r="0.85"/>
<circle cx="342.19" cy="106.70" r="0.85"/>
<circle cx="343.48" cy="106.70" r="0.85"/>
<circle cx="344.77" cy="106.70" r="0.85"/>
<circle cx="346.05" cy="106.70" r="0.85"/>
<circle cx="347.34" cy="106.70" r="0.85"/>
<circle cx="348.62" cy="106.70" r="0.85"/>
<circle cx="349.91" cy="106.70" r="0.85"/>
<circle cx="351.19" cy="106.70" r="0.85"/>
<circle cx="352.48" cy="106.70" r="0.85"/>
<circle cx="333.48" cy="108.90" r="0.85"/>
<circle cx="334.81" cy="108.83" r="0.85"/>
<circle cx="336.15" cy="108.77" r="0.85"/>
<circle cx="337.48" cy="108.70" r="0.85"/>
<circle cx="338.81" cy="108.63" r="0.85"/>
<circle cx="340.15" cy="108.57" r="0.85"/>
<circle cx="341.48" cy="108.50" r="0.85"/>
<circle cx="342.81" cy="108.43" r="0.85"/>
<circle cx="344.15" cy="108.43" r="0.85"/>
<circle cx="345.48" cy="108.50" r="0.85"/>
<circle cx="346.81" cy="108.57" r="0.85"/>
<circle cx="348.15" cy="108.63" r="0.85"/>
<circle cx="349.48" cy="108.70" r="0.85"/>
<circle cx="350.81" cy="108.77" r="0.85"/>
<circle cx="352.15" cy="108.83" r="0.85"/>
<circle cx="353.48" cy="108.90" r="0.85"/>
<circle cx="333.48" cy="110.90" r="0.85"/>
<circle cx="334.66" cy="110.83" r="0.85"/>
<circle cx="335.83" cy="110.76" r="0.85"/>
<circle cx="337.01" cy="110.69" r="0.85"/>
<circle cx="338.19" cy="110.62" r="0.85"/>
<circle cx="339.36" cy="110.55" r="0.85"/>
<circle cx="340.54" cy="110.48" r="0.85"/>
<circle cx="341.72" cy="110.41" r="0.85"/>
<circle cx="342.89" cy="110.34" r="0.85"/>
<circle cx="344.07" cy="110.34" r="0.85"/>
<circle cx="345.24" cy="110.41" r="0.85"/>
<circle cx="346.42" cy="110.48" r="0.85"/>
<circle cx="347.60" cy="110.55" r="0.85"/>
<circle cx="348.77" cy="110.62" r="0.85"/>
<circle cx="349.95" cy="110.69" r="0.85"/>
<circle cx="351.13" cy="110.76" r="0.85"/>
<circle cx="352.30" cy="110.83" r="0.85"/>
<circle cx="353.48" cy="110.90" r="0.85"/>
<circle cx="333.48" cy="112.40" r="0.85"/>
<circle cx="334.66" cy="112.33" r="0.85"/>
<circle cx="335.83" cy="112.26" r="0.85"/>
<circle cx="337.01" cy="112.19" r="0.85"/>
<circle cx="338.19" cy="112.12" r="0.85"/>
<circle cx="339.36" cy="112.05" r="0.85"/>
<circle cx="340.54" cy="111.98" r="0.85"/>
<circle cx="341.72" cy="111.91" r="0.85"/>
<circle cx="342.89" cy="111.84" r="0.85"/>
<circle cx="344.07" cy="111.84" r="0.85"/>
<circle cx="345.24" cy="111.91" r="0.85"/>
<circle cx="346.42" cy="111.98" r="0.85"/>
<circle cx="347.60" cy="112.05" r="0.85"/>
<circle cx="348.77" cy="112.12" r="0.85"/>
<circle cx="349.95" cy="112.19" r="0.85"/>
<circle cx="351.13" cy="112.26" r="0.85"/>
<circle cx="352.30" cy="112.33" r="0.85"/>
<circle cx="353.48" cy="112.40" r="0.85"/>
<circle cx="337.62" cy="115.51" r="0.85"/>
<circle cx="339.96" cy="116.13" r="0.85"/>
<circle cx="342.21" cy="116.64" r="0.85"/>
<circle cx="344.96" cy="116.21" r="0.85"/>
<circle cx="347.38" cy="116.11" r="0.85"/>
<circle cx="349.22" cy="115.47" r="0.85"/>
<circle cx="338.57" cy="118.35" r="0.85"/>
<circle cx="340.39" cy="118.54" r="0.85"/>
<circle cx="342.75" cy="119.08" r="0.85"/>
<circle cx="344.79" cy="118.88" r="0.85"/>
<circle cx="346.59" cy="118.32" r="0.85"/>
<circle cx="348.64" cy="118.29" r="0.85"/>
<circle cx="337.58" cy="120.43" r="0.85"/>
<circle cx="339.68" cy="121.02" r="0.85"/>
<circle cx="342.62" cy="121.55" r="0.85"/>
<circle cx="344.71" cy="121.43" r="0.85"/>
<circle cx="346.95" cy="121.03" r="0.85"/>
<circle cx="349.73" cy="120.21" r="0.85"/>
<circle cx="338.19" cy="122.86" r="0.85"/>
<circle cx="340.52" cy="123.46" r="0.85"/>
<circle cx="342.47" cy="123.42" r="0.85"/>
<circle cx="344.70" cy="123.44" r="0.85"/>
<circle cx="346.69" cy="123.10" r="0.85"/>
<circle cx="348.36" cy="123.07" r="0.85"/>
<circle cx="338.23" cy="125.09" r="0.85"/>
<circle cx="340.49" cy="125.83" r="0.85"/>
<circle cx="342.72" cy="126.21" r="0.85"/>
<circle cx="344.79" cy="126.10" r="0.85"/>
<circle cx="346.79" cy="125.45" r="0.85"/>
<circle cx="348.28" cy="125.32" r="0.85"/>
<circle cx="337.33" cy="127.64" r="0.85"/>
<circle cx="339.98" cy="127.99" r="0.85"/>
<circle cx="342.52" cy="128.50" r="0.85"/>
<circle cx="344.55" cy="128.39" r="0.85"/>
<circle cx="347.32" cy="128.22" r="0.85"/>
<circle cx="349.28" cy="127.71" r="0.85"/>
<circle cx="339.81" cy="130.21" r="0.85"/>
<circle cx="341.53" cy="130.42" r="0.85"/>
<circle cx="343.51" cy="131.00" r="0.85"/>
<circle cx="345.55" cy="130.32" r="0.85"/>
<circle cx="347.81" cy="130.21" r="0.85"/>
<circle cx="341.41" cy="133.08" r="0.85"/>
<circle cx="343.52" cy="133.29" r="0.85"/>
<circle cx="345.61" cy="132.64" r="0.85"/>
<circle cx="342.51" cy="135.25" r="0.85"/>
<circle cx="344.80" cy="135.55" r="0.85"/>
<line x1="375.10" y1="56.30" x2="375.10" y2="129.30" stroke="#000" stroke-width="1.4"/>
<line x1="369.40" y1="56.30" x2="380.80" y2="56.30" stroke="#000" stroke-width="1.5"/>
<line x1="369.40" y1="129.30" x2="380.80" y2="129.30" stroke="#000" stroke-width="1.5"/>
<rect x="364.75" y="77.30" width="20.70" height="23.70" fill="#fff" stroke="#000" stroke-width="1.5"/>
<line x1="364.75" y1="86.70" x2="385.45" y2="86.70" stroke="#000" stroke-width="1.4"/>
<circle cx="374.94" cy="62.48" r="0.85"/>
<circle cx="373.34" cy="65.66" r="0.85"/>
<circle cx="376.82" cy="65.94" r="0.85"/>
<circle cx="373.58" cy="67.29" r="0.85"/>
<circle cx="376.38" cy="67.47" r="0.85"/>
<circle cx="373.40" cy="69.64" r="0.85"/>
<circle cx="375.30" cy="68.91" r="0.85"/>
<circle cx="376.89" cy="69.70" r="0.85"/>
<circle cx="372.23" cy="71.87" r="0.85"/>
<circle cx="374.00" cy="71.47" r="0.85"/>
<circle cx="375.82" cy="71.53" r="0.85"/>
<circle cx="377.84" cy="71.99" r="0.85"/>
<circle cx="369.93" cy="74.52" r="0.85"/>
<circle cx="372.12" cy="74.22" r="0.85"/>
<circle cx="374.01" cy="73.77" r="0.85"/>
<circle cx="376.12" cy="73.62" r="0.85"/>
<circle cx="377.89" cy="74.34" r="0.85"/>
<circle cx="380.20" cy="74.72" r="0.85"/>
<circle cx="368.35" cy="76.69" r="0.85"/>
<circle cx="370.35" cy="76.08" r="0.85"/>
<circle cx="372.27" cy="76.05" r="0.85"/>
<circle cx="374.38" cy="75.38" r="0.85"/>
<circle cx="375.97" cy="75.74" r="0.85"/>
<circle cx="377.90" cy="76.16" r="0.85"/>
<circle cx="380.37" cy="76.02" r="0.85"/>
<circle cx="381.92" cy="76.76" r="0.85"/>
<circle cx="367.93" cy="78.82" r="0.85"/>
<circle cx="370.08" cy="78.87" r="0.85"/>
<circle cx="371.80" cy="78.56" r="0.85"/>
<circle cx="373.28" cy="78.75" r="0.85"/>
<circle cx="374.76" cy="78.32" r="0.85"/>
<circle cx="376.98" cy="78.89" r="0.85"/>
<circle cx="378.93" cy="78.55" r="0.85"/>
<circle cx="380.35" cy="79.07" r="0.85"/>
<circle cx="382.10" cy="79.17" r="0.85"/>
<circle cx="368.88" cy="80.72" r="0.85"/>
<circle cx="370.54" cy="80.57" r="0.85"/>
<circle cx="372.56" cy="80.71" r="0.85"/>
<circle cx="374.29" cy="80.36" r="0.85"/>
<circle cx="375.74" cy="80.39" r="0.85"/>
<circle cx="377.91" cy="81.00" r="0.85"/>
<circle cx="379.68" cy="80.60" r="0.85"/>
<circle cx="380.79" cy="81.25" r="0.85"/>
<circle cx="371.07" cy="82.98" r="0.85"/>
<circle cx="372.98" cy="82.64" r="0.85"/>
<circle cx="375.11" cy="82.46" r="0.85"/>
<circle cx="377.17" cy="82.37" r="0.85"/>
<circle cx="379.24" cy="83.03" r="0.85"/>
<circle cx="371.88" cy="84.71" r="0.85"/>
<circle cx="374.27" cy="84.52" r="0.85"/>
<circle cx="375.89" cy="84.38" r="0.85"/>
<circle cx="378.11" cy="84.45" r="0.85"/>
<circle cx="367.38" cy="86.24" r="0.85"/>
<circle cx="369.02" cy="86.42" r="0.85"/>
<circle cx="370.75" cy="86.29" r="0.85"/>
<circle cx="372.50" cy="86.49" r="0.85"/>
<circle cx="374.55" cy="86.81" r="0.85"/>
<circle cx="375.82" cy="86.88" r="0.85"/>
<circle cx="377.94" cy="86.65" r="0.85"/>
<circle cx="379.76" cy="86.29" r="0.85"/>
<circle cx="381.60" cy="86.43" r="0.85"/>
<circle cx="383.24" cy="86.22" r="0.85"/>
<circle cx="371.29" cy="88.12" r="0.85"/>
<circle cx="373.26" cy="88.08" r="0.85"/>
<circle cx="374.99" cy="88.48" r="0.85"/>
<circle cx="376.76" cy="88.25" r="0.85"/>
<circle cx="379.20" cy="88.25" r="0.85"/>
<circle cx="371.91" cy="90.53" r="0.85"/>
<circle cx="374.22" cy="90.32" r="0.85"/>
<circle cx="376.21" cy="90.46" r="0.85"/>
<circle cx="378.12" cy="90.19" r="0.85"/>
<circle cx="370.45" cy="92.19" r="0.85"/>
<circle cx="371.91" cy="92.39" r="0.85"/>
<circle cx="373.77" cy="92.08" r="0.85"/>
<circle cx="375.18" cy="92.64" r="0.85"/>
<circle cx="376.60" cy="92.31" r="0.85"/>
<circle cx="378.12" cy="92.05" r="0.85"/>
<circle cx="380.01" cy="91.86" r="0.85"/>
<circle cx="372.93" cy="94.58" r="0.85"/>
<circle cx="375.14" cy="94.50" r="0.85"/>
<circle cx="377.43" cy="94.38" r="0.85"/>
<circle cx="373.45" cy="96.92" r="0.85"/>
<circle cx="375.32" cy="96.75" r="0.85"/>
<circle cx="377.17" cy="97.00" r="0.85"/>
<circle cx="370.78" cy="98.64" r="0.85"/>
<circle cx="372.86" cy="98.52" r="0.85"/>
<circle cx="374.87" cy="98.70" r="0.85"/>
<circle cx="377.18" cy="98.28" r="0.85"/>
<circle cx="379.41" cy="98.33" r="0.85"/>
<circle cx="374.12" cy="102.66" r="0.85"/>
<circle cx="376.01" cy="102.47" r="0.85"/>
<circle cx="370.21" cy="103.82" r="0.85"/>
<circle cx="371.95" cy="104.44" r="0.85"/>
<circle cx="373.96" cy="104.54" r="0.85"/>
<circle cx="375.92" cy="104.56" r="0.85"/>
<circle cx="377.86" cy="104.46" r="0.85"/>
<circle cx="380.02" cy="104.02" r="0.85"/>
<circle cx="372.27" cy="106.03" r="0.85"/>
<circle cx="374.44" cy="106.97" r="0.85"/>
<circle cx="375.80" cy="106.94" r="0.85"/>
<circle cx="378.05" cy="106.29" r="0.85"/>
<circle cx="373.43" cy="108.65" r="0.85"/>
<circle cx="375.12" cy="109.46" r="0.85"/>
<circle cx="377.26" cy="108.78" r="0.85"/>
<circle cx="373.94" cy="111.89" r="0.85"/>
<circle cx="376.67" cy="111.47" r="0.85"/>
<circle cx="375.19" cy="114.97" r="0.85"/>
<line x1="406.72" y1="65.00" x2="406.72" y2="87.10" stroke="#000" stroke-width="1.4"/>
<line x1="401.02" y1="65.00" x2="412.42" y2="65.00" stroke="#000" stroke-width="1.5"/>
<line x1="401.02" y1="87.10" x2="412.42" y2="87.10" stroke="#000" stroke-width="1.5"/>
<rect x="396.37" y="70.50" width="20.70" height="11.80" fill="#fff" stroke="#000" stroke-width="1.5"/>
<line x1="396.37" y1="76.50" x2="417.07" y2="76.50" stroke="#000" stroke-width="1.4"/>
<circle cx="398.22" cy="68.30" r="0.85"/>
<circle cx="399.35" cy="68.07" r="0.85"/>
<circle cx="400.49" cy="67.85" r="0.85"/>
<circle cx="401.62" cy="67.62" r="0.85"/>
<circle cx="402.75" cy="67.39" r="0.85"/>
<circle cx="403.89" cy="67.17" r="0.85"/>
<circle cx="405.02" cy="66.94" r="0.85"/>
<circle cx="406.15" cy="66.71" r="0.85"/>
<circle cx="407.29" cy="66.71" r="0.85"/>
<circle cx="408.42" cy="66.94" r="0.85"/>
<circle cx="409.55" cy="67.17" r="0.85"/>
<circle cx="410.69" cy="67.39" r="0.85"/>
<circle cx="411.82" cy="67.62" r="0.85"/>
<circle cx="412.95" cy="67.85" r="0.85"/>
<circle cx="414.09" cy="68.07" r="0.85"/>
<circle cx="415.22" cy="68.30" r="0.85"/>
<circle cx="397.22" cy="70.10" r="0.85"/>
<circle cx="398.34" cy="69.88" r="0.85"/>
<circle cx="399.46" cy="69.65" r="0.85"/>
<circle cx="400.57" cy="69.43" r="0.85"/>
<circle cx="401.69" cy="69.21" r="0.85"/>
<circle cx="402.81" cy="68.98" r="0.85"/>
<circle cx="403.93" cy="68.76" r="0.85"/>
<circle cx="405.04" cy="68.54" r="0.85"/>
<circle cx="406.16" cy="68.31" r="0.85"/>
<circle cx="407.28" cy="68.31" r="0.85"/>
<circle cx="408.40" cy="68.54" r="0.85"/>
<circle cx="409.51" cy="68.76" r="0.85"/>
<circle cx="410.63" cy="68.98" r="0.85"/>
<circle cx="411.75" cy="69.21" r="0.85"/>
<circle cx="412.87" cy="69.43" r="0.85"/>
<circle cx="413.98" cy="69.65" r="0.85"/>
<circle cx="415.10" cy="69.88" r="0.85"/>
<circle cx="416.22" cy="70.10" r="0.85"/>
<circle cx="397.22" cy="71.70" r="0.85"/>
<circle cx="398.34" cy="71.48" r="0.85"/>
<circle cx="399.46" cy="71.25" r="0.85"/>
<circle cx="400.57" cy="71.03" r="0.85"/>
<circle cx="401.69" cy="70.81" r="0.85"/>
<circle cx="402.81" cy="70.58" r="0.85"/>
<circle cx="403.93" cy="70.36" r="0.85"/>
<circle cx="405.04" cy="70.14" r="0.85"/>
<circle cx="406.16" cy="69.91" r="0.85"/>
<circle cx="407.28" cy="69.91" r="0.85"/>
<circle cx="408.40" cy="70.14" r="0.85"/>
<circle cx="409.51" cy="70.36" r="0.85"/>
<circle cx="410.63" cy="70.58" r="0.85"/>
<circle cx="411.75" cy="70.81" r="0.85"/>
<circle cx="412.87" cy="71.03" r="0.85"/>
<circle cx="413.98" cy="71.25" r="0.85"/>
<circle cx="415.10" cy="71.48" r="0.85"/>
<circle cx="416.22" cy="71.70" r="0.85"/>
<circle cx="396.72" cy="72.30" r="0.85"/>
<circle cx="397.83" cy="72.21" r="0.85"/>
<circle cx="398.94" cy="72.12" r="0.85"/>
<circle cx="400.05" cy="72.03" r="0.85"/>
<circle cx="401.16" cy="71.94" r="0.85"/>
<circle cx="402.28" cy="71.86" r="0.85"/>
<circle cx="403.39" cy="71.77" r="0.85"/>
<circle cx="404.50" cy="71.68" r="0.85"/>
<circle cx="405.61" cy="71.59" r="0.85"/>
<circle cx="406.72" cy="71.50" r="0.85"/>
<circle cx="407.83" cy="71.59" r="0.85"/>
<circle cx="408.94" cy="71.68" r="0.85"/>
<circle cx="410.05" cy="71.77" r="0.85"/>
<circle cx="411.16" cy="71.86" r="0.85"/>
<circle cx="412.28" cy="71.94" r="0.85"/>
<circle cx="413.39" cy="72.03" r="0.85"/>
<circle cx="414.50" cy="72.12" r="0.85"/>
<circle cx="415.61" cy="72.21" r="0.85"/>
<circle cx="416.72" cy="72.30" r="0.85"/>
<circle cx="396.22" cy="73.90" r="0.85"/>
<circle cx="397.33" cy="73.82" r="0.85"/>
<circle cx="398.43" cy="73.73" r="0.85"/>
<circle cx="399.54" cy="73.65" r="0.85"/>
<circle cx="400.64" cy="73.56" r="0.85"/>
<circle cx="401.75" cy="73.48" r="0.85"/>
<circle cx="402.85" cy="73.39" r="0.85"/>
<circle cx="403.96" cy="73.31" r="0.85"/>
<circle cx="405.06" cy="73.23" r="0.85"/>
<circle cx="406.17" cy="73.14" r="0.85"/>
<circle cx="407.27" cy="73.14" r="0.85"/>
<circle cx="408.38" cy="73.23" r="0.85"/>
<circle cx="409.48" cy="73.31" r="0.85"/>
<circle cx="410.59" cy="73.39" r="0.85"/>
<circle cx="411.69" cy="73.48" r="0.85"/>
<circle cx="412.80" cy="73.56" r="0.85"/>
<circle cx="413.90" cy="73.65" r="0.85"/>
<circle cx="415.01" cy="73.73" r="0.85"/>
<circle cx="416.11" cy="73.82" r="0.85"/>
<circle cx="417.22" cy="73.90" r="0.85"/>
<circle cx="395.92" cy="75.60" r="0.85"/>
<circle cx="397.00" cy="75.52" r="0.85"/>
<circle cx="398.08" cy="75.44" r="0.85"/>
<circle cx="399.16" cy="75.36" r="0.85"/>
<circle cx="400.24" cy="75.28" r="0.85"/>
<circle cx="401.32" cy="75.20" r="0.85"/>
<circle cx="402.40" cy="75.12" r="0.85"/>
<circle cx="403.48" cy="75.04" r="0.85"/>
<circle cx="404.56" cy="74.96" r="0.85"/>
<circle cx="405.64" cy="74.88" r="0.85"/>
<circle cx="406.72" cy="74.80" r="0.85"/>
<circle cx="407.80" cy="74.88" r="0.85"/>
<circle cx="408.88" cy="74.96" r="0.85"/>
<circle cx="409.96" cy="75.04" r="0.85"/>
<circle cx="411.04" cy="75.12" r="0.85"/>
<circle cx="412.12" cy="75.20" r="0.85"/>
<circle cx="413.20" cy="75.28" r="0.85"/>
<circle cx="414.28" cy="75.36" r="0.85"/>
<circle cx="415.36" cy="75.44" r="0.85"/>
<circle cx="416.44" cy="75.52" r="0.85"/>
<circle cx="417.52" cy="75.60" r="0.85"/>
<circle cx="395.92" cy="77.20" r="0.85"/>
<circle cx="397.00" cy="77.12" r="0.85"/>
<circle cx="398.08" cy="77.04" r="0.85"/>
<circle cx="399.16" cy="76.96" r="0.85"/>
<circle cx="400.24" cy="76.88" r="0.85"/>
<circle cx="401.32" cy="76.80" r="0.85"/>
<circle cx="402.40" cy="76.72" r="0.85"/>
<circle cx="403.48" cy="76.64" r="0.85"/>
<circle cx="404.56" cy="76.56" r="0.85"/>
<circle cx="405.64" cy="76.48" r="0.85"/>
<circle cx="406.72" cy="76.40" r="0.85"/>
<circle cx="407.80" cy="76.48" r="0.85"/>
<circle cx="408.88" cy="76.56" r="0.85"/>
<circle cx="409.96" cy="76.64" r="0.85"/>
<circle cx="411.04" cy="76.72" r="0.85"/>
<circle cx="412.12" cy="76.80" r="0.85"/>
<circle cx="413.20" cy="76.88" r="0.85"/>
<circle cx="414.28" cy="76.96" r="0.85"/>
<circle cx="415.36" cy="77.04" r="0.85"/>
<circle cx="416.44" cy="77.12" r="0.85"/>
<circle cx="417.52" cy="77.20" r="0.85"/>
<circle cx="395.92" cy="77.20" r="0.85"/>
<circle cx="397.00" cy="77.28" r="0.85"/>
<circle cx="398.08" cy="77.36" r="0.85"/>
<circle cx="399.16" cy="77.44" r="0.85"/>
<circle cx="400.24" cy="77.52" r="0.85"/>
<circle cx="401.32" cy="77.60" r="0.85"/>
<circle cx="402.40" cy="77.68" r="0.85"/>
<circle cx="403.48" cy="77.76" r="0.85"/>
<circle cx="404.56" cy="77.84" r="0.85"/>
<circle cx="405.64" cy="77.92" r="0.85"/>
<circle cx="406.72" cy="78.00" r="0.85"/>
<circle cx="407.80" cy="77.92" r="0.85"/>
<circle cx="408.88" cy="77.84" r="0.85"/>
<circle cx="409.96" cy="77.76" r="0.85"/>
<circle cx="411.04" cy="77.68" r="0.85"/>
<circle cx="412.12" cy="77.60" r="0.85"/>
<circle cx="413.20" cy="77.52" r="0.85"/>
<circle cx="414.28" cy="77.44" r="0.85"/>
<circle cx="415.36" cy="77.36" r="0.85"/>
<circle cx="416.44" cy="77.28" r="0.85"/>
<circle cx="417.52" cy="77.20" r="0.85"/>
<circle cx="395.92" cy="78.80" r="0.85"/>
<circle cx="397.00" cy="78.88" r="0.85"/>
<circle cx="398.08" cy="78.96" r="0.85"/>
<circle cx="399.16" cy="79.04" r="0.85"/>
<circle cx="400.24" cy="79.12" r="0.85"/>
<circle cx="401.32" cy="79.20" r="0.85"/>
<circle cx="402.40" cy="79.28" r="0.85"/>
<circle cx="403.48" cy="79.36" r="0.85"/>
<circle cx="404.56" cy="79.44" r="0.85"/>
<circle cx="405.64" cy="79.52" r="0.85"/>
<circle cx="406.72" cy="79.60" r="0.85"/>
<circle cx="407.80" cy="79.52" r="0.85"/>
<circle cx="408.88" cy="79.44" r="0.85"/>
<circle cx="409.96" cy="79.36" r="0.85"/>
<circle cx="411.04" cy="79.28" r="0.85"/>
<circle cx="412.12" cy="79.20" r="0.85"/>
<circle cx="413.20" cy="79.12" r="0.85"/>
<circle cx="414.28" cy="79.04" r="0.85"/>
<circle cx="415.36" cy="78.96" r="0.85"/>
<circle cx="416.44" cy="78.88" r="0.85"/>
<circle cx="417.52" cy="78.80" r="0.85"/>
<circle cx="396.22" cy="80.40" r="0.85"/>
<circle cx="397.33" cy="80.48" r="0.85"/>
<circle cx="398.43" cy="80.57" r="0.85"/>
<circle cx="399.54" cy="80.65" r="0.85"/>
<circle cx="400.64" cy="80.74" r="0.85"/>
<circle cx="401.75" cy="80.82" r="0.85"/>
<circle cx="402.85" cy="80.91" r="0.85"/>
<circle cx="403.96" cy="80.99" r="0.85"/>
<circle cx="405.06" cy="81.07" r="0.85"/>
<circle cx="406.17" cy="81.16" r="0.85"/>
<circle cx="407.27" cy="81.16" r="0.85"/>
<circle cx="408.38" cy="81.07" r="0.85"/>
<circle cx="409.48" cy="80.99" r="0.85"/>
<circle cx="410.59" cy="80.91" r="0.85"/>
<circle cx="411.69" cy="80.82" r="0.85"/>
<circle cx="412.80" cy="80.74" r="0.85"/>
<circle cx="413.90" cy="80.65" r="0.85"/>
<circle cx="415.01" cy="80.57" r="0.85"/>
<circle cx="416.11" cy="80.48" r="0.85"/>
<circle cx="417.22" cy="80.40" r="0.85"/>
<circle cx="397.72" cy="80.90" r="0.85"/>
<circle cx="398.84" cy="81.12" r="0.85"/>
<circle cx="399.97" cy="81.35" r="0.85"/>
<circle cx="401.09" cy="81.58" r="0.85"/>
<circle cx="402.22" cy="81.80" r="0.85"/>
<circle cx="403.34" cy="82.03" r="0.85"/>
<circle cx="404.47" cy="82.25" r="0.85"/>
<circle cx="405.59" cy="82.48" r="0.85"/>
<circle cx="406.72" cy="82.70" r="0.85"/>
<circle cx="407.84" cy="82.48" r="0.85"/>
<circle cx="408.97" cy="82.25" r="0.85"/>
<circle cx="410.09" cy="82.03" r="0.85"/>
<circle cx="411.22" cy="81.80" r="0.85"/>
<circle cx="412.34" cy="81.58" r="0.85"/>
<circle cx="413.47" cy="81.35" r="0.85"/>
<circle cx="414.59" cy="81.12" r="0.85"/>
<circle cx="415.72" cy="80.90" r="0.85"/>
<circle cx="400.22" cy="84.30" r="0.85"/>
<circle cx="401.66" cy="84.30" r="0.85"/>
<circle cx="403.11" cy="84.30" r="0.85"/>
<circle cx="404.55" cy="84.30" r="0.85"/>
<circle cx="406.00" cy="84.30" r="0.85"/>
<circle cx="407.44" cy="84.30" r="0.85"/>
<circle cx="408.89" cy="84.30" r="0.85"/>
<circle cx="410.33" cy="84.30" r="0.85"/>
<circle cx="411.78" cy="84.30" r="0.85"/>
<circle cx="413.22" cy="84.30" r="0.85"/>
<circle cx="401.51" cy="85.73" r="0.85"/>
<circle cx="403.41" cy="85.77" r="0.85"/>
<circle cx="405.01" cy="86.10" r="0.85"/>
<circle cx="406.69" cy="85.86" r="0.85"/>
<circle cx="408.44" cy="85.95" r="0.85"/>
<circle cx="410.25" cy="86.02" r="0.85"/>
<circle cx="412.07" cy="86.27" r="0.85"/>
<line x1="438.34" y1="53.20" x2="438.34" y2="98.90" stroke="#000" stroke-width="1.4"/>
<line x1="432.64" y1="53.20" x2="444.04" y2="53.20" stroke="#000" stroke-width="1.5"/>
<line x1="432.64" y1="98.90" x2="444.04" y2="98.90" stroke="#000" stroke-width="1.5"/>
<rect x="427.99" y="80.90" width="20.70" height="8.20" fill="#fff" stroke="#000" stroke-width="1.5"/>
<line x1="427.99" y1="86.00" x2="448.69" y2="86.00" stroke="#000" stroke-width="1.4"/>
<circle cx="438.50" cy="58.14" r="0.85"/>
<circle cx="437.07" cy="73.74" r="0.85"/>
<circle cx="439.54" cy="73.57" r="0.85"/>
<circle cx="436.24" cy="75.66" r="0.85"/>
<circle cx="437.80" cy="75.57" r="0.85"/>
<circle cx="439.07" cy="75.61" r="0.85"/>
<circle cx="440.52" cy="75.61" r="0.85"/>
<circle cx="436.66" cy="77.39" r="0.85"/>
<circle cx="438.63" cy="77.03" r="0.85"/>
<circle cx="439.52" cy="76.84" r="0.85"/>
<circle cx="429.34" cy="82.60" r="0.85"/>
<circle cx="430.63" cy="82.51" r="0.85"/>
<circle cx="431.91" cy="82.43" r="0.85"/>
<circle cx="433.20" cy="82.34" r="0.85"/>
<circle cx="434.48" cy="82.26" r="0.85"/>
<circle cx="435.77" cy="82.17" r="0.85"/>
<circle cx="437.05" cy="82.09" r="0.85"/>
<circle cx="438.34" cy="82.00" r="0.85"/>
<circle cx="439.63" cy="82.09" r="0.85"/>
<circle cx="440.91" cy="82.17" r="0.85"/>
<circle cx="442.20" cy="82.26" r="0.85"/>
<circle cx="443.48" cy="82.34" r="0.85"/>
<circle cx="444.77" cy="82.43" r="0.85"/>
<circle cx="446.05" cy="82.51" r="0.85"/>
<circle cx="447.34" cy="82.60" r="0.85"/>
<circle cx="430.34" cy="83.90" r="0.85"/>
<circle cx="431.57" cy="83.84" r="0.85"/>
<circle cx="432.80" cy="83.78" r="0.85"/>
<circle cx="434.03" cy="83.72" r="0.85"/>
<circle cx="435.26" cy="83.65" r="0.85"/>
<circle cx="436.49" cy="83.59" r="0.85"/>
<circle cx="437.72" cy="83.53" r="0.85"/>
<circle cx="438.96" cy="83.53" r="0.85"/>
<circle cx="440.19" cy="83.59" r="0.85"/>
<circle cx="441.42" cy="83.65" r="0.85"/>
<circle cx="442.65" cy="83.72" r="0.85"/>
<circle cx="443.88" cy="83.78" r="0.85"/>
<circle cx="445.11" cy="83.84" r="0.85"/>
<circle cx="446.34" cy="83.90" r="0.85"/>
<circle cx="430.34" cy="86.34" r="0.85"/>
<circle cx="431.57" cy="86.24" r="0.85"/>
<circle cx="432.80" cy="86.14" r="0.85"/>
<circle cx="434.03" cy="86.04" r="0.85"/>
<circle cx="435.26" cy="85.95" r="0.85"/>
<circle cx="436.49" cy="85.85" r="0.85"/>
<circle cx="437.72" cy="85.75" r="0.85"/>
<circle cx="438.96" cy="85.75" r="0.85"/>
<circle cx="440.19" cy="85.85" r="0.85"/>
<circle cx="441.42" cy="85.95" r="0.85"/>
<circle cx="442.65" cy="86.04" r="0.85"/>
<circle cx="443.88" cy="86.14" r="0.85"/>
<circle cx="445.11" cy="86.24" r="0.85"/>
<circle cx="446.34" cy="86.34" r="0.85"/>
<circle cx="428.34" cy="86.50" r="0.85"/>
<circle cx="429.59" cy="86.60" r="0.85"/>
<circle cx="430.84" cy="86.70" r="0.85"/>
<circle cx="432.09" cy="86.80" r="0.85"/>
<circle cx="433.34" cy="86.90" r="0.85"/>
<circle cx="434.59" cy="87.00" r="0.85"/>
<circle cx="435.84" cy="87.10" r="0.85"/>
<circle cx="437.09" cy="87.20" r="0.85"/>
<circle cx="438.34" cy="87.30" r="0.85"/>
<circle cx="439.59" cy="87.20" r="0.85"/>
<circle cx="440.84" cy="87.10" r="0.85"/>
<circle cx="442.09" cy="87.00" r="0.85"/>
<circle cx="443.34" cy="86.90" r="0.85"/>
<circle cx="444.59" cy="86.80" r="0.85"/>
<circle cx="445.84" cy="86.70" r="0.85"/>
<circle cx="447.09" cy="86.60" r="0.85"/>
<circle cx="448.34" cy="86.50" r="0.85"/>
<circle cx="435.18" cy="90.56" r="0.85"/>
<circle cx="436.93" cy="90.66" r="0.85"/>
<circle cx="438.37" cy="90.94" r="0.85"/>
<circle cx="439.55" cy="91.01" r="0.85"/>
<circle cx="441.38" cy="90.68" r="0.85"/>
<circle cx="436.25" cy="92.49" r="0.85"/>
<circle cx="437.47" cy="92.67" r="0.85"/>
<circle cx="439.18" cy="92.97" r="0.85"/>
<circle cx="440.04" cy="92.27" r="0.85"/>
<circle cx="435.56" cy="95.55" r="0.85"/>
<circle cx="437.03" cy="94.87" r="0.85"/>
<circle cx="438.29" cy="94.45" r="0.85"/>
<circle cx="440.06" cy="94.96" r="0.85"/>
<circle cx="441.45" cy="95.77" r="0.85"/>
<line x1="469.96" y1="41.60" x2="469.96" y2="121.80" stroke="#000" stroke-width="1.4"/>
<line x1="464.26" y1="41.60" x2="475.66" y2="41.60" stroke="#000" stroke-width="1.5"/>
<line x1="464.26" y1="121.80" x2="475.66" y2="121.80" stroke="#000" stroke-width="1.5"/>
<rect x="459.61" y="58.50" width="20.70" height="35.00" fill="#fff" stroke="#000" stroke-width="1.5"/>
<line x1="459.61" y1="78.50" x2="480.31" y2="78.50" stroke="#000" stroke-width="1.4"/>
<circle cx="463.46" cy="46.06" r="0.85"/>
<circle cx="464.64" cy="45.74" r="0.85"/>
<circle cx="465.82" cy="45.42" r="0.85"/>
<circle cx="467.01" cy="45.10" r="0.85"/>
<circle cx="468.19" cy="44.78" r="0.85"/>
<circle cx="469.37" cy="44.46" r="0.85"/>
<circle cx="470.55" cy="44.46" r="0.85"/>
<circle cx="471.73" cy="44.78" r="0.85"/>
<circle cx="472.91" cy="45.10" r="0.85"/>
<circle cx="474.10" cy="45.42" r="0.85"/>
<circle cx="475.28" cy="45.74" r="0.85"/>
<circle cx="476.46" cy="46.06" r="0.85"/>
<circle cx="460.96" cy="48.80" r="0.85"/>
<circle cx="462.08" cy="48.52" r="0.85"/>
<circle cx="463.21" cy="48.25" r="0.85"/>
<circle cx="464.33" cy="47.98" r="0.85"/>
<circle cx="465.46" cy="47.70" r="0.85"/>
<circle cx="466.58" cy="47.43" r="0.85"/>
<circle cx="467.71" cy="47.15" r="0.85"/>
<circle cx="468.83" cy="46.88" r="0.85"/>
<circle cx="469.96" cy="46.60" r="0.85"/>
<circle cx="471.08" cy="46.88" r="0.85"/>
<circle cx="472.21" cy="47.15" r="0.85"/>
<circle cx="473.33" cy="47.43" r="0.85"/>
<circle cx="474.46" cy="47.70" r="0.85"/>
<circle cx="475.58" cy="47.98" r="0.85"/>
<circle cx="476.71" cy="48.25" r="0.85"/>
<circle cx="477.83" cy="48.52" r="0.85"/>
<circle cx="478.96" cy="48.80" r="0.85"/>
<circle cx="459.96" cy="51.10" r="0.85"/>
<circle cx="461.14" cy="50.84" r="0.85"/>
<circle cx="462.31" cy="50.58" r="0.85"/>
<circle cx="463.49" cy="50.32" r="0.85"/>
<circle cx="464.67" cy="50.06" r="0.85"/>
<circle cx="465.84" cy="49.81" r="0.85"/>
<circle cx="467.02" cy="49.55" r="0.85"/>
<circle cx="468.20" cy="49.29" r="0.85"/>
<circle cx="469.37" cy="49.03" r="0.85"/>
<circle cx="470.55" cy="49.03" r="0.85"/>
<circle cx="471.72" cy="49.29" r="0.85"/>
<circle cx="472.90" cy="49.55" r="0.85"/>
<circle cx="474.08" cy="49.81" r="0.85"/>
<circle cx="475.25" cy="50.06" r="0.85"/>
<circle cx="476.43" cy="50.32" r="0.85"/>
<circle cx="477.61" cy="50.58" r="0.85"/>
<circle cx="478.78" cy="50.84" r="0.85"/>
<circle cx="479.96" cy="51.10" r="0.85"/>
<circle cx="459.66" cy="53.40" r="0.85"/>
<circle cx="460.80" cy="53.16" r="0.85"/>
<circle cx="461.95" cy="52.91" r="0.85"/>
<circle cx="463.09" cy="52.67" r="0.85"/>
<circle cx="464.24" cy="52.42" r="0.85"/>
<circle cx="465.38" cy="52.18" r="0.85"/>
<circle cx="466.53" cy="51.93" r="0.85"/>
<circle cx="467.67" cy="51.69" r="0.85"/>
<circle cx="468.82" cy="51.44" r="0.85"/>
<circle cx="469.96" cy="51.20" r="0.85"/>
<circle cx="471.10" cy="51.44" r="0.85"/>
<circle cx="472.25" cy="51.69" r="0.85"/>
<circle cx="473.39" cy="51.93" r="0.85"/>
<circle cx="474.54" cy="52.18" r="0.85"/>
<circle cx="475.68" cy="52.42" r="0.85"/>
<circle cx="476.83" cy="52.67" r="0.85"/>
<circle cx="477.97" cy="52.91" r="0.85"/>
<circle cx="479.12" cy="53.16" r="0.85"/>
<circle cx="480.26" cy="53.40" r="0.85"/>
<circle cx="459.36" cy="55.70" r="0.85"/>
<circle cx="460.54" cy="55.46" r="0.85"/>
<circle cx="461.72" cy="55.21" r="0.85"/>
<circle cx="462.89" cy="54.97" r="0.85"/>
<circle cx="464.07" cy="54.72" r="0.85"/>
<circle cx="465.25" cy="54.48" r="0.85"/>
<circle cx="466.43" cy="54.23" r="0.85"/>
<circle cx="467.60" cy="53.99" r="0.85"/>
<circle cx="468.78" cy="53.74" r="0.85"/>
<circle cx="469.96" cy="53.50" r="0.85"/>
<circle cx="471.14" cy="53.74" r="0.85"/>
<circle cx="472.32" cy="53.99" r="0.85"/>
<circle cx="473.49" cy="54.23" r="0.85"/>
<circle cx="474.67" cy="54.48" r="0.85"/>
<circle cx="475.85" cy="54.72" r="0.85"/>
<circle cx="477.03" cy="54.97" r="0.85"/>
<circle cx="478.20" cy="55.21" r="0.85"/>
<circle cx="479.38" cy="55.46" r="0.85"/>
<circle cx="480.56" cy="55.70" r="0.85"/>
<circle cx="459.16" cy="58.00" r="0.85"/>
<circle cx="460.30" cy="57.77" r="0.85"/>
<circle cx="461.43" cy="57.54" r="0.85"/>
<circle cx="462.57" cy="57.31" r="0.85"/>
<circle cx="463.71" cy="57.07" r="0.85"/>
<circle cx="464.84" cy="56.84" r="0.85"/>
<circle cx="465.98" cy="56.61" r="0.85"/>
<circle cx="467.12" cy="56.38" r="0.85"/>
<circle cx="468.25" cy="56.15" r="0.85"/>
<circle cx="469.39" cy="55.92" r="0.85"/>
<circle cx="470.53" cy="55.92" r="0.85"/>
<circle cx="471.67" cy="56.15" r="0.85"/>
<circle cx="472.80" cy="56.38" r="0.85"/>
<circle cx="473.94" cy="56.61" r="0.85"/>
<circle cx="475.08" cy="56.84" r="0.85"/>
<circle cx="476.21" cy="57.07" r="0.85"/>
<circle cx="477.35" cy="57.31" r="0.85"/>
<circle cx="478.49" cy="57.54" r="0.85"/>
<circle cx="479.62" cy="57.77" r="0.85"/>
<circle cx="480.76" cy="58.00" r="0.85"/>
<circle cx="458.96" cy="59.42" r="0.85"/>
<circle cx="460.12" cy="59.28" r="0.85"/>
<circle cx="461.28" cy="59.14" r="0.85"/>
<circle cx="462.43" cy="59.00" r="0.85"/>
<circle cx="463.59" cy="58.86" r="0.85"/>
<circle cx="464.75" cy="58.73" r="0.85"/>
<circle cx="465.91" cy="58.59" r="0.85"/>
<circle cx="467.07" cy="58.45" r="0.85"/>
<circle cx="468.22" cy="58.31" r="0.85"/>
<circle cx="469.38" cy="58.17" r="0.85"/>
<circle cx="470.54" cy="58.17" r="0.85"/>
<circle cx="471.70" cy="58.31" r="0.85"/>
<circle cx="472.85" cy="58.45" r="0.85"/>
<circle cx="474.01" cy="58.59" r="0.85"/>
<circle cx="475.17" cy="58.73" r="0.85"/>
<circle cx="476.33" cy="58.86" r="0.85"/>
<circle cx="477.49" cy="59.00" r="0.85"/>
<circle cx="478.64" cy="59.14" r="0.85"/>
<circle cx="479.80" cy="59.28" r="0.85"/>
<circle cx="480.96" cy="59.42" r="0.85"/>
<circle cx="459.46" cy="60.90" r="0.85"/>
<circle cx="460.63" cy="60.87" r="0.85"/>
<circle cx="461.79" cy="60.83" r="0.85"/>
<circle cx="462.96" cy="60.80" r="0.85"/>
<circle cx="464.13" cy="60.77" r="0.85"/>
<circle cx="465.29" cy="60.73" r="0.85"/>
<circle cx="466.46" cy="60.70" r="0.85"/>
<circle cx="467.63" cy="60.67" r="0.85"/>
<circle cx="468.79" cy="60.63" r="0.85"/>
<circle cx="469.96" cy="60.60" r="0.85"/>
<circle cx="471.13" cy="60.63" r="0.85"/>
<circle cx="472.29" cy="60.67" r="0.85"/>
<circle cx="473.46" cy="60.70" r="0.85"/>
<circle cx="474.63" cy="60.73" r="0.85"/>
<circle cx="475.79" cy="60.77" r="0.85"/>
<circle cx="476.96" cy="60.80" r="0.85"/>
<circle cx="478.13" cy="60.83" r="0.85"/>
<circle cx="479.29" cy="60.87" r="0.85"/>
<circle cx="480.46" cy="60.90" r="0.85"/>
<circle cx="465.84" cy="63.53" r="0.85"/>
<circle cx="468.13" cy="63.75" r="0.85"/>
<circle cx="469.91" cy="63.42" r="0.85"/>
<circle cx="471.68" cy="63.73" r="0.85"/>
<circle cx="473.66" cy="63.25" r="0.85"/>
<circle cx="465.00" cy="65.69" r="0.85"/>
<circle cx="467.09" cy="65.90" r="0.85"/>
<circle cx="469.15" cy="66.09" r="0.85"/>
<circle cx="470.76" cy="66.44" r="0.85"/>
<circle cx="472.67" cy="65.90" r="0.85"/>
<circle cx="475.12" cy="65.82" r="0.85"/>
<circle cx="462.81" cy="68.79" r="0.85"/>
<circle cx="464.86" cy="69.14" r="0.85"/>
<circle cx="466.87" cy="68.77" r="0.85"/>
<circle cx="469.11" cy="69.04" r="0.85"/>
<circle cx="471.25" cy="69.26" r="0.85"/>
<circle cx="473.25" cy="68.96" r="0.85"/>
<circle cx="475.17" cy="68.88" r="0.85"/>
<circle cx="476.83" cy="68.94" r="0.85"/>
<circle cx="467.26" cy="71.24" r="0.85"/>
<circle cx="468.78" cy="70.58" r="0.85"/>
<circle cx="470.87" cy="70.58" r="0.85"/>
<circle cx="472.89" cy="70.93" r="0.85"/>
<circle cx="466.75" cy="72.54" r="0.85"/>
<circle cx="469.17" cy="72.52" r="0.85"/>
<circle cx="471.20" cy="72.54" r="0.85"/>
<circle cx="472.73" cy="72.66" r="0.85"/>
<circle cx="464.23" cy="74.37" r="0.85"/>
<circle cx="465.63" cy="74.51" r="0.85"/>
<circle cx="467.99" cy="74.54" r="0.85"/>
<circle cx="470.29" cy="74.59" r="0.85"/>
<circle cx="472.17" cy="74.24" r="0.85"/>
<circle cx="473.99" cy="74.67" r="0.85"/>
<circle cx="475.67" cy="74.25" r="0.85"/>
<circle cx="468.13" cy="76.54" r="0.85"/>
<circle cx="469.67" cy="76.38" r="0.85"/>
<circle cx="471.71" cy="76.45" r="0.85"/>
<circle cx="459.46" cy="79.10" r="0.85"/>
<circle cx="460.63" cy="79.01" r="0.85"/>
<circle cx="461.79" cy="78.92" r="0.85"/>
<circle cx="462.96" cy="78.83" r="0.85"/>
<circle cx="464.13" cy="78.74" r="0.85"/>
<circle cx="465.29" cy="78.66" r="0.85"/>
<circle cx="466.46" cy="78.57" r="0.85"/>
<circle cx="467.63" cy="78.48" r="0.85"/>
<circle cx="468.79" cy="78.39" r="0.85"/>
<circle cx="469.96" cy="78.30" r="0.85"/>
<circle cx="471.13" cy="78.39" r="0.85"/>
<circle cx="472.29" cy="78.48" r="0.85"/>
<circle cx="473.46" cy="78.57" r="0.85"/>
<circle cx="474.63" cy="78.66" r="0.85"/>
<circle cx="475.79" cy="78.74" r="0.85"/>
<circle cx="476.96" cy="78.83" r="0.85"/>
<circle cx="478.13" cy="78.92" r="0.85"/>
<circle cx="479.29" cy="79.01" r="0.85"/>
<circle cx="480.46" cy="79.10" r="0.85"/>
<circle cx="459.46" cy="79.00" r="0.85"/>
<circle cx="460.63" cy="79.09" r="0.85"/>
<circle cx="461.79" cy="79.18" r="0.85"/>
<circle cx="462.96" cy="79.27" r="0.85"/>
<circle cx="464.13" cy="79.36" r="0.85"/>
<circle cx="465.29" cy="79.44" r="0.85"/>
<circle cx="466.46" cy="79.53" r="0.85"/>
<circle cx="467.63" cy="79.62" r="0.85"/>
<circle cx="468.79" cy="79.71" r="0.85"/>
<circle cx="469.96" cy="79.80" r="0.85"/>
<circle cx="471.13" cy="79.71" r="0.85"/>
<circle cx="472.29" cy="79.62" r="0.85"/>
<circle cx="473.46" cy="79.53" r="0.85"/>
<circle cx="474.63" cy="79.44" r="0.85"/>
<circle cx="475.79" cy="79.36" r="0.85"/>
<circle cx="476.96" cy="79.27" r="0.85"/>
<circle cx="478.13" cy="79.18" r="0.85"/>
<circle cx="479.29" cy="79.09" r="0.85"/>
<circle cx="480.46" cy="79.00" r="0.85"/>
<circle cx="467.06" cy="81.35" r="0.85"/>
<circle cx="468.76" cy="81.66" r="0.85"/>
<circle cx="470.98" cy="81.66" r="0.85"/>
<circle cx="472.89" cy="81.40" r="0.85"/>
<circle cx="459.46" cy="82.60" r="0.85"/>
<circle cx="460.63" cy="82.69" r="0.85"/>
<circle cx="461.79" cy="82.78" r="0.85"/>
<circle cx="462.96" cy="82.87" r="0.85"/>
<circle cx="464.13" cy="82.96" r="0.85"/>
<circle cx="465.29" cy="83.04" r="0.85"/>
<circle cx="466.46" cy="83.13" r="0.85"/>
<circle cx="467.63" cy="83.22" r="0.85"/>
<circle cx="468.79" cy="83.31" r="0.85"/>
<circle cx="469.96" cy="83.40" r="0.85"/>
<circle cx="471.13" cy="83.31" r="0.85"/>
<circle cx="472.29" cy="83.22" r="0.85"/>
<circle cx="473.46" cy="83.13" r="0.85"/>
<circle cx="474.63" cy="83.04" r="0.85"/>
<circle cx="475.79" cy="82.96" r="0.85"/>
<circle cx="476.96" cy="82.87" r="0.85"/>
<circle cx="478.13" cy="82.78" r="0.85"/>
<circle cx="479.29" cy="82.69" r="0.85"/>
<circle cx="480.46" cy="82.60" r="0.85"/>
<circle cx="462.96" cy="84.84" r="0.85"/>
<circle cx="464.13" cy="84.93" r="0.85"/>
<circle cx="465.29" cy="85.03" r="0.85"/>
<circle cx="466.46" cy="85.12" r="0.85"/>
<circle cx="467.63" cy="85.21" r="0.85"/>
<circle cx="468.79" cy="85.31" r="0.85"/>
<circle cx="469.96" cy="85.40" r="0.85"/>
<circle cx="471.13" cy="85.31" r="0.85"/>
<circle cx="472.29" cy="85.21" r="0.85"/>
<circle cx="473.46" cy="85.12" r="0.85"/>
<circle cx="474.63" cy="85.03" r="0.85"/>
<circle cx="475.79" cy="84.93" r="0.85"/>
<circle cx="476.96" cy="84.84" r="0.85"/>
<circle cx="459.46" cy="86.80" r="0.85"/>
<circle cx="460.63" cy="86.89" r="0.85"/>
<circle cx="461.79" cy="86.98" r="0.85"/>
<circle cx="462.96" cy="87.07" r="0.85"/>
<circle cx="464.13" cy="87.16" r="0.85"/>
<circle cx="465.29" cy="87.24" r="0.85"/>
<circle cx="466.46" cy="87.33" r="0.85"/>
<circle cx="467.63" cy="87.42" r="0.85"/>
<circle cx="468.79" cy="87.51" r="0.85"/>
<circle cx="469.96" cy="87.60" r="0.85"/>
<circle cx="471.13" cy="87.51" r="0.85"/>
<circle cx="472.29" cy="87.42" r="0.85"/>
<circle cx="473.46" cy="87.33" r="0.85"/>
<circle cx="474.63" cy="87.24" r="0.85"/>
<circle cx="475.79" cy="87.16" r="0.85"/>
<circle cx="476.96" cy="87.07" r="0.85"/>
<circle cx="478.13" cy="86.98" r="0.85"/>
<circle cx="479.29" cy="86.89" r="0.85"/>
<circle cx="480.46" cy="86.80" r="0.85"/>
<circle cx="459.46" cy="89.00" r="0.85"/>
<circle cx="460.63" cy="89.09" r="0.85"/>
<circle cx="461.79" cy="89.18" r="0.85"/>
<circle cx="462.96" cy="89.27" r="0.85"/>
<circle cx="464.13" cy="89.36" r="0.85"/>
<circle cx="465.29" cy="89.44" r="0.85"/>
<circle cx="466.46" cy="89.53" r="0.85"/>
<circle cx="467.63" cy="89.62" r="0.85"/>
<circle cx="468.79" cy="89.71" r="0.85"/>
<circle cx="469.96" cy="89.80" r="0.85"/>
<circle cx="471.13" cy="89.71" r="0.85"/>
<circle cx="472.29" cy="89.62" r="0.85"/>
<circle cx="473.46" cy="89.53" r="0.85"/>
<circle cx="474.63" cy="89.44" r="0.85"/>
<circle cx="475.79" cy="89.36" r="0.85"/>
<circle cx="476.96" cy="89.27" r="0.85"/>
<circle cx="478.13" cy="89.18" r="0.85"/>
<circle cx="479.29" cy="89.09" r="0.85"/>
<circle cx="480.46" cy="89.00" r="0.85"/>
<circle cx="459.46" cy="91.00" r="0.85"/>
<circle cx="460.63" cy="91.09" r="0.85"/>
<circle cx="461.79" cy="91.18" r="0.85"/>
<circle cx="462.96" cy="91.27" r="0.85"/>
<circle cx="464.13" cy="91.36" r="0.85"/>
<circle cx="465.29" cy="91.44" r="0.85"/>
<circle cx="466.46" cy="91.53" r="0.85"/>
<circle cx="467.63" cy="91.62" r="0.85"/>
<circle cx="468.79" cy="91.71" r="0.85"/>
<circle cx="469.96" cy="91.80" r="0.85"/>
<circle cx="471.13" cy="91.71" r="0.85"/>
<circle cx="472.29" cy="91.62" r="0.85"/>
<circle cx="473.46" cy="91.53" r="0.85"/>
<circle cx="474.63" cy="91.44" r="0.85"/>
<circle cx="475.79" cy="91.36" r="0.85"/>
<circle cx="476.96" cy="91.27" r="0.85"/>
<circle cx="478.13" cy="91.18" r="0.85"/>
<circle cx="479.29" cy="91.09" r="0.85"/>
<circle cx="480.46" cy="91.00" r="0.85"/>
<circle cx="463.96" cy="95.40" r="0.85"/>
<circle cx="465.16" cy="95.62" r="0.85"/>
<circle cx="466.36" cy="95.84" r="0.85"/>
<circle cx="467.56" cy="96.06" r="0.85"/>
<circle cx="468.76" cy="96.28" r="0.85"/>
<circle cx="469.96" cy="96.50" r="0.85"/>
<circle cx="471.16" cy="96.28" r="0.85"/>
<circle cx="472.36" cy="96.06" r="0.85"/>
<circle cx="473.56" cy="95.84" r="0.85"/>
<circle cx="474.76" cy="95.62" r="0.85"/>
<circle cx="475.96" cy="95.40" r="0.85"/>
<circle cx="461.96" cy="97.28" r="0.85"/>
<circle cx="463.10" cy="97.47" r="0.85"/>
<circle cx="464.25" cy="97.66" r="0.85"/>
<circle cx="465.39" cy="97.85" r="0.85"/>
<circle cx="466.53" cy="98.03" r="0.85"/>
<circle cx="467.67" cy="98.22" r="0.85"/>
<circle cx="468.82" cy="98.41" r="0.85"/>
<circle cx="469.96" cy="98.60" r="0.85"/>
<circle cx="471.10" cy="98.41" r="0.85"/>
<circle cx="472.25" cy="98.22" r="0.85"/>
<circle cx="473.39" cy="98.03" r="0.85"/>
<circle cx="474.53" cy="97.85" r="0.85"/>
<circle cx="475.67" cy="97.66" r="0.85"/>
<circle cx="476.82" cy="97.47" r="0.85"/>
<circle cx="477.96" cy="97.28" r="0.85"/>
<circle cx="461.46" cy="99.48" r="0.85"/>
<circle cx="462.59" cy="99.66" r="0.85"/>
<circle cx="463.73" cy="99.83" r="0.85"/>
<circle cx="464.86" cy="100.01" r="0.85"/>
<circle cx="465.99" cy="100.18" r="0.85"/>
<circle cx="467.13" cy="100.36" r="0.85"/>
<circle cx="468.26" cy="100.54" r="0.85"/>
<circle cx="469.39" cy="100.71" r="0.85"/>
<circle cx="470.53" cy="100.71" r="0.85"/>
<circle cx="471.66" cy="100.54" r="0.85"/>
<circle cx="472.79" cy="100.36" r="0.85"/>
<circle cx="473.93" cy="100.18" r="0.85"/>
<circle cx="475.06" cy="100.01" r="0.85"/>
<circle cx="476.19" cy="99.83" r="0.85"/>
<circle cx="477.33" cy="99.66" r="0.85"/>
<circle cx="478.46" cy="99.48" r="0.85"/>
<circle cx="460.96" cy="101.68" r="0.85"/>
<circle cx="462.08" cy="101.84" r="0.85"/>
<circle cx="463.21" cy="102.01" r="0.85"/>
<circle cx="464.33" cy="102.17" r="0.85"/>
<circle cx="465.46" cy="102.34" r="0.85"/>
<circle cx="466.58" cy="102.50" r="0.85"/>
<circle cx="467.71" cy="102.67" r="0.85"/>
<circle cx="468.83" cy="102.83" r="0.85"/>
<circle cx="469.96" cy="103.00" r="0.85"/>
<circle cx="471.08" cy="102.83" r="0.85"/>
<circle cx="472.21" cy="102.67" r="0.85"/>
<circle cx="473.33" cy="102.50" r="0.85"/>
<circle cx="474.46" cy="102.34" r="0.85"/>
<circle cx="475.58" cy="102.17" r="0.85"/>
<circle cx="476.71" cy="102.01" r="0.85"/>
<circle cx="477.83" cy="101.84" r="0.85"/>
<circle cx="478.96" cy="101.68" r="0.85"/>
<circle cx="460.46" cy="103.88" r="0.85"/>
<circle cx="461.58" cy="104.04" r="0.85"/>
<circle cx="462.70" cy="104.19" r="0.85"/>
<circle cx="463.81" cy="104.35" r="0.85"/>
<circle cx="464.93" cy="104.50" r="0.85"/>
<circle cx="466.05" cy="104.66" r="0.85"/>
<circle cx="467.17" cy="104.81" r="0.85"/>
<circle cx="468.28" cy="104.97" r="0.85"/>
<circle cx="469.40" cy="105.12" r="0.85"/>
<circle cx="470.52" cy="105.12" r="0.85"/>
<circle cx="471.64" cy="104.97" r="0.85"/>
<circle cx="472.75" cy="104.81" r="0.85"/>
<circle cx="473.87" cy="104.66" r="0.85"/>
<circle cx="474.99" cy="104.50" r="0.85"/>
<circle cx="476.11" cy="104.35" r="0.85"/>
<circle cx="477.22" cy="104.19" r="0.85"/>
<circle cx="478.34" cy="104.04" r="0.85"/>
<circle cx="479.46" cy="103.88" r="0.85"/>
<circle cx="459.96" cy="106.18" r="0.85"/>
<circle cx="461.14" cy="106.34" r="0.85"/>
<circle cx="462.31" cy="106.49" r="0.85"/>
<circle cx="463.49" cy="106.65" r="0.85"/>
<circle cx="464.67" cy="106.80" r="0.85"/>
<circle cx="465.84" cy="106.96" r="0.85"/>
<circle cx="467.02" cy="107.11" r="0.85"/>
<circle cx="468.20" cy="107.27" r="0.85"/>
<circle cx="469.37" cy="107.42" r="0.85"/>
<circle cx="470.55" cy="107.42" r="0.85"/>
<circle cx="471.72" cy="107.27" r="0.85"/>
<circle cx="472.90" cy="107.11" r="0.85"/>
<circle cx="474.08" cy="106.96" r="0.85"/>
<circle cx="475.25" cy="106.80" r="0.85"/>
<circle cx="476.43" cy="106.65" r="0.85"/>
<circle cx="477.61" cy="106.49" r="0.85"/>
<circle cx="478.78" cy="106.34" r="0.85"/>
<circle cx="479.96" cy="106.18" r="0.85"/>
<circle cx="460.96" cy="108.62" r="0.85"/>
<circle cx="462.08" cy="108.73" r="0.85"/>
<circle cx="463.21" cy="108.84" r="0.85"/>
<circle cx="464.33" cy="108.95" r="0.85"/>
<circle cx="465.46" cy="109.06" r="0.85"/>
<circle cx="466.58" cy="109.17" r="0.85"/>
<circle cx="467.71" cy="109.28" r="0.85"/>
<circle cx="468.83" cy="109.39" r="0.85"/>
<circle cx="469.96" cy="109.50" r="0.85"/>
<circle cx="471.08" cy="109.39" r="0.85"/>
<circle cx="472.21" cy="109.28" r="0.85"/>
<circle cx="473.33" cy="109.17" r="0.85"/>
<circle cx="474.46" cy="109.06" r="0.85"/>
<circle cx="475.58" cy="108.95" r="0.85"/>
<circle cx="476.71" cy="108.84" r="0.85"/>
<circle cx="477.83" cy="108.73" r="0.85"/>
<circle cx="478.96" cy="108.62" r="0.85"/>
<circle cx="467.29" cy="111.60" r="0.85"/>
<circle cx="468.96" cy="111.52" r="0.85"/>
<circle cx="471.11" cy="111.62" r="0.85"/>
<circle cx="473.25" cy="111.45" r="0.85"/>
<circle cx="468.19" cy="113.60" r="0.85"/>
<circle cx="470.21" cy="113.68" r="0.85"/>
<circle cx="472.19" cy="113.73" r="0.85"/>
<circle cx="468.78" cy="115.58" r="0.85"/>
<circle cx="469.98" cy="115.63" r="0.85"/>
<circle cx="471.67" cy="115.45" r="0.85"/>
<circle cx="468.90" cy="117.29" r="0.85"/>
<circle cx="471.13" cy="117.79" r="0.85"/>
<line x1="501.58" y1="63.60" x2="501.58" y2="86.90" stroke="#000" stroke-width="1.4"/>
<line x1="495.88" y1="63.60" x2="507.28" y2="63.60" stroke="#000" stroke-width="1.5"/>
<line x1="495.88" y1="86.90" x2="507.28" y2="86.90" stroke="#000" stroke-width="1.5"/>
<rect x="491.23" y="69.50" width="20.70" height="6.40" fill="#fff" stroke="#000" stroke-width="1.5"/>
<line x1="491.23" y1="72.50" x2="511.93" y2="72.50" stroke="#000" stroke-width="1.4"/>
<circle cx="500.79" cy="65.64" r="0.85"/>
<circle cx="502.07" cy="65.79" r="0.85"/>
<circle cx="501.43" cy="67.28" r="0.85"/>
<circle cx="493.58" cy="71.64" r="0.85"/>
<circle cx="494.81" cy="71.54" r="0.85"/>
<circle cx="496.04" cy="71.44" r="0.85"/>
<circle cx="497.27" cy="71.34" r="0.85"/>
<circle cx="498.50" cy="71.25" r="0.85"/>
<circle cx="499.73" cy="71.15" r="0.85"/>
<circle cx="500.96" cy="71.05" r="0.85"/>
<circle cx="502.20" cy="71.05" r="0.85"/>
<circle cx="503.43" cy="71.15" r="0.85"/>
<circle cx="504.66" cy="71.25" r="0.85"/>
<circle cx="505.89" cy="71.34" r="0.85"/>
<circle cx="507.12" cy="71.44" r="0.85"/>
<circle cx="508.35" cy="71.54" r="0.85"/>
<circle cx="509.58" cy="71.64" r="0.85"/>
<circle cx="493.58" cy="73.36" r="0.85"/>
<circle cx="494.81" cy="73.46" r="0.85"/>
<circle cx="496.04" cy="73.56" r="0.85"/>
<circle cx="497.27" cy="73.66" r="0.85"/>
<circle cx="498.50" cy="73.75" r="0.85"/>
<circle cx="499.73" cy="73.85" r="0.85"/>
<circle cx="500.96" cy="73.95" r="0.85"/>
<circle cx="502.20" cy="73.95" r="0.85"/>
<circle cx="503.43" cy="73.85" r="0.85"/>
<circle cx="504.66" cy="73.75" r="0.85"/>
<circle cx="505.89" cy="73.66" r="0.85"/>
<circle cx="507.12" cy="73.56" r="0.85"/>
<circle cx="508.35" cy="73.46" r="0.85"/>
<circle cx="509.58" cy="73.36" r="0.85"/>
<circle cx="499.27" cy="77.29" r="0.85"/>
<circle cx="500.64" cy="77.76" r="0.85"/>
<circle cx="502.44" cy="77.47" r="0.85"/>
<circle cx="503.27" cy="77.38" r="0.85"/>
<line x1="43.60" y1="7.10" x2="43.60" y2="150.80" stroke="#000" stroke-width="2"/>
<line x1="42.60" y1="149.80" x2="517.80" y2="149.80" stroke="#000" stroke-width="1.6"/>
<line x1="43.60" y1="7.80" x2="46.5" y2="7.80" stroke="#000" stroke-width="1.3"/>
<line x1="43.60" y1="20.20" x2="45.9" y2="20.20" stroke="#000" stroke-width="0.9"/>
<line x1="43.60" y1="17.08" x2="45.9" y2="17.08" stroke="#000" stroke-width="0.9"/>
<line x1="43.60" y1="14.86" x2="45.9" y2="14.86" stroke="#000" stroke-width="0.9"/>
<line x1="43.60" y1="13.14" x2="45.9" y2="13.14" stroke="#000" stroke-width="0.9"/>
<line x1="43.60" y1="11.74" x2="45.9" y2="11.74" stroke="#000" stroke-width="0.9"/>
<line x1="43.60" y1="10.55" x2="45.9" y2="10.55" stroke="#000" stroke-width="0.9"/>
<line x1="43.60" y1="9.52" x2="45.9" y2="9.52" stroke="#000" stroke-width="0.9"/>
<line x1="43.60" y1="8.61" x2="45.9" y2="8.61" stroke="#000" stroke-width="0.9"/>
<text x="41.2" y="11.50" text-anchor="end" font-size="8.8" font-weight="bold">10<tspan dy="-3.2" font-size="5.9">4</tspan></text>
<line x1="43.60" y1="25.54" x2="46.5" y2="25.54" stroke="#000" stroke-width="1.3"/>
<line x1="43.60" y1="37.94" x2="45.9" y2="37.94" stroke="#000" stroke-width="0.9"/>
<line x1="43.60" y1="34.82" x2="45.9" y2="34.82" stroke="#000" stroke-width="0.9"/>
<line x1="43.60" y1="32.60" x2="45.9" y2="32.60" stroke="#000" stroke-width="0.9"/>
<line x1="43.60" y1="30.88" x2="45.9" y2="30.88" stroke="#000" stroke-width="0.9"/>
<line x1="43.60" y1="29.48" x2="45.9" y2="29.48" stroke="#000" stroke-width="0.9"/>
<line x1="43.60" y1="28.29" x2="45.9" y2="28.29" stroke="#000" stroke-width="0.9"/>
<line x1="43.60" y1="27.26" x2="45.9" y2="27.26" stroke="#000" stroke-width="0.9"/>
<line x1="43.60" y1="26.35" x2="45.9" y2="26.35" stroke="#000" stroke-width="0.9"/>
<text x="41.2" y="29.24" text-anchor="end" font-size="8.8" font-weight="bold">10<tspan dy="-3.2" font-size="5.9">3</tspan></text>
<line x1="43.60" y1="43.28" x2="46.5" y2="43.28" stroke="#000" stroke-width="1.3"/>
<line x1="43.60" y1="55.68" x2="45.9" y2="55.68" stroke="#000" stroke-width="0.9"/>
<line x1="43.60" y1="52.56" x2="45.9" y2="52.56" stroke="#000" stroke-width="0.9"/>
<line x1="43.60" y1="50.34" x2="45.9" y2="50.34" stroke="#000" stroke-width="0.9"/>
<line x1="43.60" y1="48.62" x2="45.9" y2="48.62" stroke="#000" stroke-width="0.9"/>
<line x1="43.60" y1="47.22" x2="45.9" y2="47.22" stroke="#000" stroke-width="0.9"/>
<line x1="43.60" y1="46.03" x2="45.9" y2="46.03" stroke="#000" stroke-width="0.9"/>
<line x1="43.60" y1="45.00" x2="45.9" y2="45.00" stroke="#000" stroke-width="0.9"/>
<line x1="43.60" y1="44.09" x2="45.9" y2="44.09" stroke="#000" stroke-width="0.9"/>
<text x="41.2" y="46.98" text-anchor="end" font-size="8.8" font-weight="bold">10<tspan dy="-3.2" font-size="5.9">2</tspan></text>
<line x1="43.60" y1="61.02" x2="46.5" y2="61.02" stroke="#000" stroke-width="1.3"/>
<line x1="43.60" y1="73.42" x2="45.9" y2="73.42" stroke="#000" stroke-width="0.9"/>
<line x1="43.60" y1="70.30" x2="45.9" y2="70.30" stroke="#000" stroke-width="0.9"/>
<line x1="43.60" y1="68.08" x2="45.9" y2="68.08" stroke="#000" stroke-width="0.9"/>
<line x1="43.60" y1="66.36" x2="45.9" y2="66.36" stroke="#000" stroke-width="0.9"/>
<line x1="43.60" y1="64.96" x2="45.9" y2="64.96" stroke="#000" stroke-width="0.9"/>
<line x1="43.60" y1="63.77" x2="45.9" y2="63.77" stroke="#000" stroke-width="0.9"/>
<line x1="43.60" y1="62.74" x2="45.9" y2="62.74" stroke="#000" stroke-width="0.9"/>
<line x1="43.60" y1="61.83" x2="45.9" y2="61.83" stroke="#000" stroke-width="0.9"/>
<text x="41.2" y="64.72" text-anchor="end" font-size="8.8" font-weight="bold">10<tspan dy="-3.2" font-size="5.9">1</tspan></text>
<line x1="43.60" y1="78.76" x2="46.5" y2="78.76" stroke="#000" stroke-width="1.3"/>
<line x1="43.60" y1="91.16" x2="45.9" y2="91.16" stroke="#000" stroke-width="0.9"/>
<line x1="43.60" y1="88.04" x2="45.9" y2="88.04" stroke="#000" stroke-width="0.9"/>
<line x1="43.60" y1="85.82" x2="45.9" y2="85.82" stroke="#000" stroke-width="0.9"/>
<line x1="43.60" y1="84.10" x2="45.9" y2="84.10" stroke="#000" stroke-width="0.9"/>
<line x1="43.60" y1="82.70" x2="45.9" y2="82.70" stroke="#000" stroke-width="0.9"/>
<line x1="43.60" y1="81.51" x2="45.9" y2="81.51" stroke="#000" stroke-width="0.9"/>
<line x1="43.60" y1="80.48" x2="45.9" y2="80.48" stroke="#000" stroke-width="0.9"/>
<line x1="43.60" y1="79.57" x2="45.9" y2="79.57" stroke="#000" stroke-width="0.9"/>
<text x="41.2" y="82.46" text-anchor="end" font-size="8.8" font-weight="bold">10<tspan dy="-3.2" font-size="5.9">0</tspan></text>
<line x1="43.60" y1="96.50" x2="46.5" y2="96.50" stroke="#000" stroke-width="1.3"/>
<line x1="43.60" y1="108.90" x2="45.9" y2="108.90" stroke="#000" stroke-width="0.9"/>
<line x1="43.60" y1="105.78" x2="45.9" y2="105.78" stroke="#000" stroke-width="0.9"/>
<line x1="43.60" y1="103.56" x2="45.9" y2="103.56" stroke="#000" stroke-width="0.9"/>
<line x1="43.60" y1="101.84" x2="45.9" y2="101.84" stroke="#000" stroke-width="0.9"/>
<line x1="43.60" y1="100.44" x2="45.9" y2="100.44" stroke="#000" stroke-width="0.9"/>
<line x1="43.60" y1="99.25" x2="45.9" y2="99.25" stroke="#000" stroke-width="0.9"/>
<line x1="43.60" y1="98.22" x2="45.9" y2="98.22" stroke="#000" stroke-width="0.9"/>
<line x1="43.60" y1="97.31" x2="45.9" y2="97.31" stroke="#000" stroke-width="0.9"/>
<text x="41.2" y="100.20" text-anchor="end" font-size="8.8" font-weight="bold">10<tspan dy="-3.2" font-size="5.9">-1</tspan></text>
<line x1="43.60" y1="114.24" x2="46.5" y2="114.24" stroke="#000" stroke-width="1.3"/>
<line x1="43.60" y1="126.64" x2="45.9" y2="126.64" stroke="#000" stroke-width="0.9"/>
<line x1="43.60" y1="123.52" x2="45.9" y2="123.52" stroke="#000" stroke-width="0.9"/>
<line x1="43.60" y1="121.30" x2="45.9" y2="121.30" stroke="#000" stroke-width="0.9"/>
<line x1="43.60" y1="119.58" x2="45.9" y2="119.58" stroke="#000" stroke-width="0.9"/>
<line x1="43.60" y1="118.18" x2="45.9" y2="118.18" stroke="#000" stroke-width="0.9"/>
<line x1="43.60" y1="116.99" x2="45.9" y2="116.99" stroke="#000" stroke-width="0.9"/>
<line x1="43.60" y1="115.96" x2="45.9" y2="115.96" stroke="#000" stroke-width="0.9"/>
<line x1="43.60" y1="115.05" x2="45.9" y2="115.05" stroke="#000" stroke-width="0.9"/>
<text x="41.2" y="117.94" text-anchor="end" font-size="8.8" font-weight="bold">10<tspan dy="-3.2" font-size="5.9">-2</tspan></text>
<line x1="43.60" y1="131.98" x2="46.5" y2="131.98" stroke="#000" stroke-width="1.3"/>
<line x1="43.60" y1="144.38" x2="45.9" y2="144.38" stroke="#000" stroke-width="0.9"/>
<line x1="43.60" y1="141.26" x2="45.9" y2="141.26" stroke="#000" stroke-width="0.9"/>
<line x1="43.60" y1="139.04" x2="45.9" y2="139.04" stroke="#000" stroke-width="0.9"/>
<line x1="43.60" y1="137.32" x2="45.9" y2="137.32" stroke="#000" stroke-width="0.9"/>
<line x1="43.60" y1="135.92" x2="45.9" y2="135.92" stroke="#000" stroke-width="0.9"/>
<line x1="43.60" y1="134.73" x2="45.9" y2="134.73" stroke="#000" stroke-width="0.9"/>
<line x1="43.60" y1="133.70" x2="45.9" y2="133.70" stroke="#000" stroke-width="0.9"/>
<line x1="43.60" y1="132.79" x2="45.9" y2="132.79" stroke="#000" stroke-width="0.9"/>
<text x="41.2" y="135.68" text-anchor="end" font-size="8.8" font-weight="bold">10<tspan dy="-3.2" font-size="5.9">-3</tspan></text>
<line x1="43.60" y1="149.72" x2="46.5" y2="149.72" stroke="#000" stroke-width="1.3"/>
<text x="41.2" y="153.42" text-anchor="end" font-size="8.8" font-weight="bold">10<tspan dy="-3.2" font-size="5.9">-4</tspan></text>
<line x1="58.90" y1="149.80" x2="58.90" y2="147.60" stroke="#000" stroke-width="1"/>
<text x="58.90" y="159.7" text-anchor="middle" font-size="8.9" font-weight="bold">4998</text>
<line x1="90.52" y1="149.80" x2="90.52" y2="147.60" stroke="#000" stroke-width="1"/>
<text x="90.52" y="159.7" text-anchor="middle" font-size="8.9" font-weight="bold">5199</text>
<line x1="122.14" y1="149.80" x2="122.14" y2="147.60" stroke="#000" stroke-width="1"/>
<text x="122.14" y="159.7" text-anchor="middle" font-size="8.9" font-weight="bold">5182</text>
<line x1="153.76" y1="149.80" x2="153.76" y2="147.60" stroke="#000" stroke-width="1"/>
<text x="153.76" y="159.7" text-anchor="middle" font-size="8.9" font-weight="bold">5216</text>
<line x1="185.38" y1="149.80" x2="185.38" y2="147.60" stroke="#000" stroke-width="1"/>
<text x="185.38" y="159.7" text-anchor="middle" font-size="8.9" font-weight="bold">5005</text>
<line x1="217.00" y1="149.80" x2="217.00" y2="147.60" stroke="#000" stroke-width="1"/>
<text x="217.00" y="159.7" text-anchor="middle" font-size="8.9" font-weight="bold">5215</text>
<line x1="248.62" y1="149.80" x2="248.62" y2="147.60" stroke="#000" stroke-width="1"/>
<text x="248.62" y="159.7" text-anchor="middle" font-size="8.9" font-weight="bold">5314</text>
<line x1="280.24" y1="149.80" x2="280.24" y2="147.60" stroke="#000" stroke-width="1"/>
<text x="280.24" y="159.7" text-anchor="middle" font-size="8.9" font-weight="bold">4986</text>
<line x1="311.86" y1="149.80" x2="311.86" y2="147.60" stroke="#000" stroke-width="1"/>
<text x="311.86" y="159.7" text-anchor="middle" font-size="8.9" font-weight="bold">5026</text>
<line x1="343.48" y1="149.80" x2="343.48" y2="147.60" stroke="#000" stroke-width="1"/>
<text x="343.48" y="159.7" text-anchor="middle" font-size="8.9" font-weight="bold">5072</text>
<line x1="375.10" y1="149.80" x2="375.10" y2="147.60" stroke="#000" stroke-width="1"/>
<text x="375.10" y="159.7" text-anchor="middle" font-size="8.9" font-weight="bold">5113</text>
<line x1="406.72" y1="149.80" x2="406.72" y2="147.60" stroke="#000" stroke-width="1"/>
<text x="406.72" y="159.7" text-anchor="middle" font-size="8.9" font-weight="bold">5216</text>
<line x1="438.34" y1="149.80" x2="438.34" y2="147.60" stroke="#000" stroke-width="1"/>
<text x="438.34" y="159.7" text-anchor="middle" font-size="8.9" font-weight="bold">5236</text>
<line x1="469.96" y1="149.80" x2="469.96" y2="147.60" stroke="#000" stroke-width="1"/>
<text x="469.96" y="159.7" text-anchor="middle" font-size="8.9" font-weight="bold">4958</text>
<line x1="501.58" y1="149.80" x2="501.58" y2="147.60" stroke="#000" stroke-width="1"/>
<text x="501.58" y="159.7" text-anchor="middle" font-size="8.9" font-weight="bold">4975</text>
<text x="280.7" y="174.6" text-anchor="middle" font-size="10" font-weight="bold">Patient</text>
<text transform="translate(18.6,79.1) rotate(-90)" text-anchor="middle" font-size="9.6" font-weight="bold">Ratio Fold Change</text>
<text x="0.3" y="9" font-size="11" font-weight="bold">A</text>
<line x1="42.90" y1="204.30" x2="42.90" y2="281.8" stroke="#222" stroke-width="1.5"/>
<line x1="41.10" y1="281.8" x2="44.70" y2="281.8" stroke="#222" stroke-width="1"/>
<line x1="42.90" y1="291.30" x2="42.90" y2="369.3" stroke="#222" stroke-width="1.5"/>
<line x1="42.30" y1="368.6" x2="138.70" y2="368.6" stroke="#222" stroke-width="1.6"/>
<line x1="42.90" y1="204.80" x2="46.10" y2="204.80" stroke="#222" stroke-width="1"/>
<text x="41.90" y="208.00" text-anchor="end" font-size="7.9" font-weight="bold">3000</text>
<line x1="42.90" y1="232.35" x2="46.10" y2="232.35" stroke="#222" stroke-width="1"/>
<text x="41.90" y="235.55" text-anchor="end" font-size="7.9" font-weight="bold">2000</text>
<line x1="42.90" y1="259.90" x2="46.10" y2="259.90" stroke="#222" stroke-width="1"/>
<text x="41.90" y="263.10" text-anchor="end" font-size="7.9" font-weight="bold">1000</text>
<line x1="42.90" y1="291.80" x2="46.10" y2="291.80" stroke="#222" stroke-width="1"/>
<text x="41.90" y="295.00" text-anchor="end" font-size="7.9" font-weight="bold">200</text>
<line x1="42.90" y1="311.00" x2="46.10" y2="311.00" stroke="#222" stroke-width="1"/>
<text x="41.90" y="314.20" text-anchor="end" font-size="7.9" font-weight="bold">150</text>
<line x1="42.90" y1="330.20" x2="46.10" y2="330.20" stroke="#222" stroke-width="1"/>
<text x="41.90" y="333.40" text-anchor="end" font-size="7.9" font-weight="bold">100</text>
<line x1="42.90" y1="349.40" x2="46.10" y2="349.40" stroke="#222" stroke-width="1"/>
<text x="41.90" y="352.60" text-anchor="end" font-size="7.9" font-weight="bold">50</text>
<text x="41.90" y="371.80" text-anchor="end" font-size="7.9" font-weight="bold">0</text>
<path d="M66.40,207.6 V204.8 H115.70 V207.6" fill="none" stroke="#222" stroke-width="1.1"/>
<text x="91.05" y="197.5" text-anchor="middle" font-size="9"><tspan font-style="italic">P</tspan> &lt; 0.0001</text>
<circle cx="66.90" cy="319.90" r="1.6"/>
<circle cx="62.20" cy="327.40" r="1.6"/>
<circle cx="66.90" cy="328.20" r="1.6"/>
<circle cx="71.80" cy="326.40" r="1.6"/>
<circle cx="52.90" cy="329.50" r="1.6"/>
<circle cx="55.30" cy="329.60" r="1.6"/>
<circle cx="57.70" cy="329.80" r="1.6"/>
<circle cx="60.10" cy="330.00" r="1.6"/>
<circle cx="62.50" cy="330.30" r="1.6"/>
<circle cx="64.60" cy="330.90" r="1.6"/>
<circle cx="66.90" cy="333.70" r="1.6"/>
<circle cx="69.30" cy="332.90" r="1.6"/>
<circle cx="71.60" cy="330.60" r="1.6"/>
<circle cx="73.90" cy="330.20" r="1.6"/>
<circle cx="76.20" cy="329.90" r="1.6"/>
<circle cx="78.50" cy="329.70" r="1.6"/>
<circle cx="80.80" cy="329.50" r="1.6"/>
<circle cx="52.90" cy="335.70" r="1.6"/>
<circle cx="57.70" cy="337.00" r="1.6"/>
<circle cx="76.10" cy="336.10" r="1.6"/>
<circle cx="80.50" cy="335.50" r="1.6"/>
<circle cx="62.40" cy="339.90" r="1.6"/>
<circle cx="66.90" cy="340.10" r="1.6"/>
<circle cx="71.50" cy="338.80" r="1.6"/>
<circle cx="62.20" cy="346.20" r="1.6"/>
<circle cx="66.90" cy="349.20" r="1.6"/>
<circle cx="71.80" cy="348.60" r="1.6"/>
<circle cx="114.70" cy="212.00" r="1.6"/>
<circle cx="112.40" cy="257.50" r="1.6"/>
<circle cx="117.30" cy="260.40" r="1.6"/>
<circle cx="114.70" cy="273.40" r="1.6"/>
<circle cx="112.40" cy="275.10" r="1.6"/>
<circle cx="117.30" cy="279.90" r="1.6"/>
<circle cx="109.90" cy="299.20" r="1.6"/>
<circle cx="114.70" cy="300.60" r="1.6"/>
<circle cx="119.60" cy="299.40" r="1.6"/>
<circle cx="107.40" cy="308.30" r="1.6"/>
<circle cx="112.40" cy="311.60" r="1.6"/>
<circle cx="119.50" cy="313.20" r="1.6"/>
<circle cx="124.60" cy="311.30" r="1.6"/>
<circle cx="112.40" cy="318.40" r="1.6"/>
<circle cx="117.30" cy="318.20" r="1.6"/>
<circle cx="109.90" cy="330.30" r="1.6"/>
<circle cx="114.70" cy="332.30" r="1.6"/>
<circle cx="119.60" cy="329.40" r="1.6"/>
<circle cx="117.30" cy="337.50" r="1.6"/>
<circle cx="112.40" cy="340.00" r="1.6"/>
<text x="67.10" y="377.4" text-anchor="middle" font-size="8" font-weight="bold">PR</text>
<text x="115.00" y="377.4" text-anchor="middle" font-size="8" font-weight="bold">SR</text>
<text x="91.40" y="392" text-anchor="middle" font-size="8.6" font-weight="bold">GI aGVHD type</text>
<text x="1.00" y="198" font-size="11" font-weight="bold">B</text>
<text transform="translate(16.00,287.30) rotate(-90)" text-anchor="middle" font-size="8.75" font-weight="bold">ICI-30 (all GI tissues)</text>
<line x1="236.10" y1="204.30" x2="236.10" y2="281.8" stroke="#222" stroke-width="1.5"/>
<line x1="234.30" y1="281.8" x2="237.90" y2="281.8" stroke="#222" stroke-width="1"/>
<line x1="236.10" y1="291.30" x2="236.10" y2="369.3" stroke="#222" stroke-width="1.5"/>
<line x1="235.50" y1="368.6" x2="331.90" y2="368.6" stroke="#222" stroke-width="1.6"/>
<line x1="236.10" y1="204.80" x2="239.30" y2="204.80" stroke="#222" stroke-width="1"/>
<text x="234.10" y="208.00" text-anchor="end" font-size="7.9" font-weight="bold">3000</text>
<line x1="236.10" y1="232.35" x2="239.30" y2="232.35" stroke="#222" stroke-width="1"/>
<text x="234.10" y="235.55" text-anchor="end" font-size="7.9" font-weight="bold">2000</text>
<line x1="236.10" y1="259.90" x2="239.30" y2="259.90" stroke="#222" stroke-width="1"/>
<text x="234.10" y="263.10" text-anchor="end" font-size="7.9" font-weight="bold">1000</text>
<line x1="236.10" y1="291.80" x2="239.30" y2="291.80" stroke="#222" stroke-width="1"/>
<text x="234.10" y="295.00" text-anchor="end" font-size="7.9" font-weight="bold">200</text>
<line x1="236.10" y1="311.00" x2="239.30" y2="311.00" stroke="#222" stroke-width="1"/>
<text x="234.10" y="314.20" text-anchor="end" font-size="7.9" font-weight="bold">150</text>
<line x1="236.10" y1="330.20" x2="239.30" y2="330.20" stroke="#222" stroke-width="1"/>
<text x="234.10" y="333.40" text-anchor="end" font-size="7.9" font-weight="bold">100</text>
<line x1="236.10" y1="349.40" x2="239.30" y2="349.40" stroke="#222" stroke-width="1"/>
<text x="234.10" y="352.60" text-anchor="end" font-size="7.9" font-weight="bold">50</text>
<text x="234.10" y="371.80" text-anchor="end" font-size="7.9" font-weight="bold">0</text>
<path d="M259.60,207.6 V204.8 H308.90 V207.6" fill="none" stroke="#222" stroke-width="1.1"/>
<text x="284.25" y="197.5" text-anchor="middle" font-size="9"><tspan font-style="italic">P</tspan> = 0.0059</text>
<circle cx="252.30" cy="330.20" r="1.6"/>
<circle cx="257.30" cy="331.50" r="1.6"/>
<circle cx="262.20" cy="330.80" r="1.6"/>
<circle cx="264.70" cy="332.70" r="1.6"/>
<circle cx="267.00" cy="327.30" r="1.6"/>
<circle cx="254.80" cy="336.50" r="1.6"/>
<circle cx="259.60" cy="336.50" r="1.6"/>
<circle cx="259.60" cy="344.40" r="1.6"/>
<circle cx="307.80" cy="256.30" r="1.6"/>
<circle cx="307.80" cy="265.70" r="1.6"/>
<circle cx="307.80" cy="300.10" r="1.6"/>
<circle cx="307.80" cy="310.00" r="1.6"/>
<circle cx="307.80" cy="317.30" r="1.6"/>
<circle cx="307.80" cy="325.20" r="1.6"/>
<circle cx="307.80" cy="335.60" r="1.6"/>
<text x="260.30" y="377.4" text-anchor="middle" font-size="8" font-weight="bold">PR</text>
<text x="308.20" y="377.4" text-anchor="middle" font-size="8" font-weight="bold">SR</text>
<text x="284.60" y="392" text-anchor="middle" font-size="8.6" font-weight="bold">GI aGVHD type</text>
<text x="193.00" y="198" font-size="11" font-weight="bold">C</text>
<text transform="translate(204.60,286.90) rotate(-90)" text-anchor="middle" font-size="8.9" font-weight="bold">ICI-30 (patient average)</text>
<line x1="423.80" y1="204.30" x2="423.80" y2="281.8" stroke="#222" stroke-width="1.5"/>
<line x1="422.00" y1="281.8" x2="425.60" y2="281.8" stroke="#222" stroke-width="1"/>
<line x1="423.80" y1="291.30" x2="423.80" y2="369.3" stroke="#222" stroke-width="1.5"/>
<line x1="423.20" y1="368.6" x2="519.60" y2="368.6" stroke="#222" stroke-width="1.6"/>
<line x1="423.80" y1="204.80" x2="427.00" y2="204.80" stroke="#222" stroke-width="1"/>
<text x="422.80" y="208.00" text-anchor="end" font-size="7.9" font-weight="bold">3000</text>
<line x1="423.80" y1="232.35" x2="427.00" y2="232.35" stroke="#222" stroke-width="1"/>
<text x="422.80" y="235.55" text-anchor="end" font-size="7.9" font-weight="bold">2000</text>
<line x1="423.80" y1="259.90" x2="427.00" y2="259.90" stroke="#222" stroke-width="1"/>
<text x="422.80" y="263.10" text-anchor="end" font-size="7.9" font-weight="bold">1000</text>
<line x1="423.80" y1="291.80" x2="427.00" y2="291.80" stroke="#222" stroke-width="1"/>
<text x="422.80" y="295.00" text-anchor="end" font-size="7.9" font-weight="bold">200</text>
<line x1="423.80" y1="311.00" x2="427.00" y2="311.00" stroke="#222" stroke-width="1"/>
<text x="422.80" y="314.20" text-anchor="end" font-size="7.9" font-weight="bold">150</text>
<line x1="423.80" y1="330.20" x2="427.00" y2="330.20" stroke="#222" stroke-width="1"/>
<text x="422.80" y="333.40" text-anchor="end" font-size="7.9" font-weight="bold">100</text>
<line x1="423.80" y1="349.40" x2="427.00" y2="349.40" stroke="#222" stroke-width="1"/>
<text x="422.80" y="352.60" text-anchor="end" font-size="7.9" font-weight="bold">50</text>
<text x="422.80" y="371.80" text-anchor="end" font-size="7.9" font-weight="bold">0</text>
<path d="M447.30,207.6 V204.8 H496.60 V207.6" fill="none" stroke="#222" stroke-width="1.1"/>
<text x="471.95" y="197.5" text-anchor="middle" font-size="9"><tspan font-style="italic">P</tspan> = 0.0939</text>
<circle cx="447.50" cy="321.20" r="1.6"/>
<circle cx="447.50" cy="337.60" r="1.6"/>
<circle cx="447.50" cy="348.20" r="1.6"/>
<circle cx="444.70" cy="358.50" r="1.6"/>
<circle cx="449.70" cy="361.00" r="1.6"/>
<circle cx="442.30" cy="365.60" r="1.6"/>
<circle cx="447.20" cy="368.00" r="1.6"/>
<circle cx="452.10" cy="367.60" r="1.6"/>
<circle cx="492.40" cy="306.30" r="1.6"/>
<circle cx="497.40" cy="302.40" r="1.6"/>
<circle cx="495.10" cy="331.10" r="1.6"/>
<circle cx="495.10" cy="337.80" r="1.6"/>
<circle cx="495.10" cy="353.10" r="1.6"/>
<circle cx="497.60" cy="355.40" r="1.6"/>
<circle cx="492.40" cy="360.00" r="1.6"/>
<text x="448.00" y="377.4" text-anchor="middle" font-size="8" font-weight="bold">PR</text>
<text x="495.90" y="377.4" text-anchor="middle" font-size="8" font-weight="bold">SR</text>
<text x="472.30" y="392" text-anchor="middle" font-size="8.6" font-weight="bold">GI aGVHD type</text>
<text x="386.40" y="198" font-size="11" font-weight="bold">D</text>
<text transform="translate(403.80,287.00) rotate(-90)" text-anchor="middle" font-size="8.75" font-weight="bold">Control ICI-30</text>
</svg>
</body></html>
